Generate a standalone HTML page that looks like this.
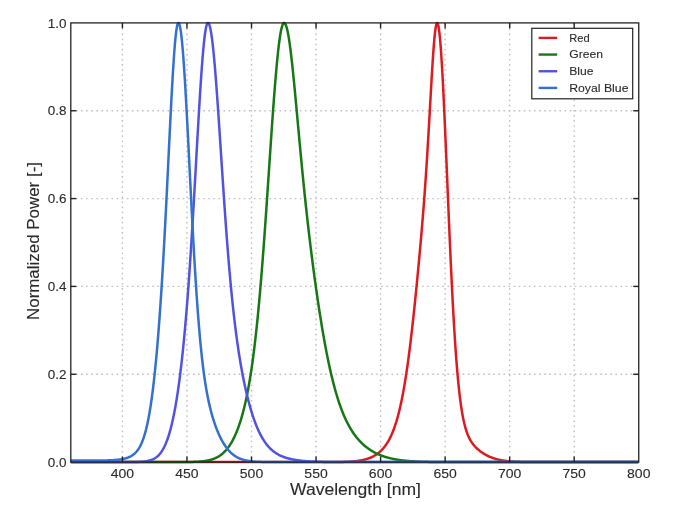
<!DOCTYPE html>
<html><head><meta charset="utf-8"><style>
html,body{margin:0;padding:0;background:#fff;width:675px;height:508px;overflow:hidden}
svg{display:block;will-change:transform}
.g{stroke:#c0c0c0;stroke-width:1.4;stroke-dasharray:1.6 3.49;fill:none}
.t{stroke:#222;stroke-width:1.4}
.c{fill:none;stroke-width:2.5;stroke-linejoin:round}
text{font-family:"Liberation Sans", sans-serif;fill:#2a2a2a;stroke:#2a2a2a;stroke-width:0.1}
.tl{font-size:13.2px}
.lg{font-size:11.4px}
.al{font-size:16.5px}
</style></head><body>
<svg width="675" height="508" viewBox="0 0 675 508">
<rect width="675" height="508" fill="#fff"/>
<g>
<line x1="122.43" y1="462.70" x2="122.43" y2="22.9" class="g"/>
<line x1="186.97" y1="462.70" x2="186.97" y2="22.9" class="g"/>
<line x1="251.51" y1="462.70" x2="251.51" y2="22.9" class="g"/>
<line x1="316.05" y1="462.70" x2="316.05" y2="22.9" class="g"/>
<line x1="380.59" y1="462.70" x2="380.59" y2="22.9" class="g"/>
<line x1="445.13" y1="462.70" x2="445.13" y2="22.9" class="g"/>
<line x1="509.67" y1="462.70" x2="509.67" y2="22.9" class="g"/>
<line x1="574.21" y1="462.70" x2="574.21" y2="22.9" class="g"/>
<line x1="70.8" y1="374.26" x2="638.75" y2="374.26" class="g"/>
<line x1="70.8" y1="286.42" x2="638.75" y2="286.42" class="g"/>
<line x1="70.8" y1="198.58" x2="638.75" y2="198.58" class="g"/>
<line x1="70.8" y1="110.74" x2="638.75" y2="110.74" class="g"/>
<path d="M70.80,462.10 L71.30,462.10 L71.80,462.10 L72.30,462.10 L72.80,462.10 L73.30,462.10 L73.80,462.10 L74.30,462.10 L74.80,462.10 L75.30,462.10 L75.80,462.10 L76.30,462.10 L76.80,462.10 L77.30,462.10 L77.80,462.10 L78.30,462.10 L78.80,462.10 L79.30,462.10 L79.80,462.10 L80.30,462.10 L80.80,462.10 L81.30,462.10 L81.80,462.10 L82.30,462.10 L82.80,462.10 L83.30,462.10 L83.80,462.10 L84.30,462.10 L84.80,462.10 L85.30,462.10 L85.80,462.10 L86.30,462.10 L86.80,462.10 L87.30,462.10 L87.80,462.10 L88.30,462.10 L88.80,462.10 L89.30,462.10 L89.80,462.10 L90.30,462.10 L90.80,462.10 L91.30,462.10 L91.80,462.10 L92.30,462.10 L92.80,462.10 L93.30,462.10 L93.80,462.10 L94.30,462.10 L94.80,462.10 L95.30,462.10 L95.80,462.10 L96.30,462.10 L96.80,462.10 L97.30,462.10 L97.80,462.10 L98.30,462.10 L98.80,462.10 L99.30,462.10 L99.80,462.10 L100.30,462.10 L100.80,462.10 L101.30,462.10 L101.80,462.10 L102.30,462.10 L102.80,462.10 L103.30,462.10 L103.80,462.10 L104.30,462.10 L104.80,462.10 L105.30,462.10 L105.80,462.10 L106.30,462.10 L106.80,462.10 L107.30,462.10 L107.80,462.10 L108.30,462.10 L108.80,462.10 L109.30,462.10 L109.80,462.10 L110.30,462.10 L110.80,462.10 L111.30,462.10 L111.80,462.10 L112.30,462.10 L112.80,462.10 L113.30,462.10 L113.80,462.10 L114.30,462.10 L114.80,462.10 L115.30,462.10 L115.80,462.10 L116.30,462.10 L116.80,462.10 L117.30,462.10 L117.80,462.10 L118.30,462.10 L118.80,462.10 L119.30,462.10 L119.80,462.10 L120.30,462.10 L120.80,462.10 L121.30,462.10 L121.80,462.10 L122.30,462.10 L122.80,462.10 L123.30,462.10 L123.80,462.10 L124.30,462.10 L124.80,462.10 L125.30,462.10 L125.80,462.10 L126.30,462.10 L126.80,462.10 L127.30,462.10 L127.80,462.10 L128.30,462.10 L128.80,462.10 L129.30,462.10 L129.80,462.10 L130.30,462.10 L130.80,462.10 L131.30,462.10 L131.80,462.10 L132.30,462.10 L132.80,462.10 L133.30,462.10 L133.80,462.10 L134.30,462.10 L134.80,462.10 L135.30,462.10 L135.80,462.10 L136.30,462.10 L136.80,462.10 L137.30,462.10 L137.80,462.10 L138.30,462.10 L138.80,462.10 L139.30,462.10 L139.80,462.10 L140.30,462.10 L140.80,462.10 L141.30,462.10 L141.80,462.10 L142.30,462.10 L142.80,462.10 L143.30,462.10 L143.80,462.10 L144.30,462.10 L144.80,462.10 L145.30,462.10 L145.80,462.10 L146.30,462.10 L146.80,462.10 L147.30,462.10 L147.80,462.10 L148.30,462.10 L148.80,462.10 L149.30,462.10 L149.80,462.10 L150.30,462.10 L150.80,462.10 L151.30,462.10 L151.80,462.10 L152.30,462.10 L152.80,462.10 L153.30,462.10 L153.80,462.10 L154.30,462.10 L154.80,462.10 L155.30,462.10 L155.80,462.10 L156.30,462.10 L156.80,462.10 L157.30,462.10 L157.80,462.10 L158.30,462.10 L158.80,462.10 L159.30,462.10 L159.80,462.10 L160.30,462.10 L160.80,462.10 L161.30,462.10 L161.80,462.10 L162.30,462.10 L162.80,462.10 L163.30,462.10 L163.80,462.10 L164.30,462.10 L164.80,462.10 L165.30,462.10 L165.80,462.10 L166.30,462.10 L166.80,462.10 L167.30,462.10 L167.80,462.10 L168.30,462.10 L168.80,462.10 L169.30,462.10 L169.80,462.10 L170.30,462.10 L170.80,462.10 L171.30,462.10 L171.80,462.10 L172.30,462.10 L172.80,462.10 L173.30,462.10 L173.80,462.10 L174.30,462.10 L174.80,462.10 L175.30,462.10 L175.80,462.10 L176.30,462.10 L176.80,462.10 L177.30,462.10 L177.80,462.10 L178.30,462.10 L178.80,462.10 L179.30,462.10 L179.80,462.10 L180.30,462.10 L180.80,462.10 L181.30,462.10 L181.80,462.10 L182.30,462.10 L182.80,462.10 L183.30,462.10 L183.80,462.10 L184.30,462.10 L184.80,462.10 L185.30,462.10 L185.80,462.10 L186.30,462.10 L186.80,462.10 L187.30,462.10 L187.80,462.10 L188.30,462.10 L188.80,462.10 L189.30,462.10 L189.80,462.10 L190.30,462.10 L190.80,462.10 L191.30,462.10 L191.80,462.10 L192.30,462.10 L192.80,462.10 L193.30,462.10 L193.80,462.10 L194.30,462.10 L194.80,462.10 L195.30,462.10 L195.80,462.10 L196.30,462.10 L196.80,462.10 L197.30,462.10 L197.80,462.10 L198.30,462.10 L198.80,462.10 L199.30,462.10 L199.80,462.10 L200.30,462.10 L200.80,462.10 L201.30,462.10 L201.80,462.10 L202.30,462.10 L202.80,462.10 L203.30,462.10 L203.80,462.10 L204.30,462.10 L204.80,462.10 L205.30,462.10 L205.80,462.10 L206.30,462.10 L206.80,462.10 L207.30,462.10 L207.80,462.10 L208.30,462.10 L208.80,462.10 L209.30,462.10 L209.80,462.10 L210.30,462.10 L210.80,462.10 L211.30,462.10 L211.80,462.10 L212.30,462.10 L212.80,462.10 L213.30,462.10 L213.80,462.10 L214.30,462.10 L214.80,462.10 L215.30,462.10 L215.80,462.10 L216.30,462.10 L216.80,462.10 L217.30,462.10 L217.80,462.10 L218.30,462.10 L218.80,462.10 L219.30,462.10 L219.80,462.10 L220.30,462.10 L220.80,462.10 L221.30,462.10 L221.80,462.10 L222.30,462.10 L222.80,462.10 L223.30,462.10 L223.80,462.10 L224.30,462.10 L224.80,462.10 L225.30,462.10 L225.80,462.10 L226.30,462.10 L226.80,462.10 L227.30,462.10 L227.80,462.10 L228.30,462.10 L228.80,462.10 L229.30,462.10 L229.80,462.10 L230.30,462.10 L230.80,462.10 L231.30,462.10 L231.80,462.10 L232.30,462.10 L232.80,462.10 L233.30,462.10 L233.80,462.10 L234.30,462.10 L234.80,462.10 L235.30,462.10 L235.80,462.10 L236.30,462.10 L236.80,462.10 L237.30,462.10 L237.80,462.10 L238.30,462.10 L238.80,462.10 L239.30,462.10 L239.80,462.10 L240.30,462.10 L240.80,462.10 L241.30,462.10 L241.80,462.10 L242.30,462.10 L242.80,462.10 L243.30,462.10 L243.80,462.10 L244.30,462.10 L244.80,462.10 L245.30,462.10 L245.80,462.10 L246.30,462.10 L246.80,462.10 L247.30,462.10 L247.80,462.10 L248.30,462.10 L248.80,462.10 L249.30,462.10 L249.80,462.10 L250.30,462.10 L250.80,462.10 L251.30,462.10 L251.80,462.10 L252.30,462.10 L252.80,462.10 L253.30,462.10 L253.80,462.10 L254.30,462.10 L254.80,462.10 L255.30,462.10 L255.80,462.10 L256.30,462.10 L256.80,462.10 L257.30,462.10 L257.80,462.10 L258.30,462.10 L258.80,462.10 L259.30,462.10 L259.80,462.10 L260.30,462.10 L260.80,462.10 L261.30,462.10 L261.80,462.10 L262.30,462.10 L262.80,462.10 L263.30,462.10 L263.80,462.10 L264.30,462.10 L264.80,462.10 L265.30,462.10 L265.80,462.10 L266.30,462.10 L266.80,462.10 L267.30,462.10 L267.80,462.10 L268.30,462.10 L268.80,462.10 L269.30,462.10 L269.80,462.10 L270.30,462.10 L270.80,462.10 L271.30,462.10 L271.80,462.10 L272.30,462.10 L272.80,462.10 L273.30,462.10 L273.80,462.10 L274.30,462.10 L274.80,462.10 L275.30,462.10 L275.80,462.10 L276.30,462.10 L276.80,462.10 L277.30,462.10 L277.80,462.10 L278.30,462.10 L278.80,462.10 L279.30,462.10 L279.80,462.10 L280.30,462.10 L280.80,462.10 L281.30,462.10 L281.80,462.10 L282.30,462.10 L282.80,462.10 L283.30,462.10 L283.80,462.10 L284.30,462.10 L284.80,462.10 L285.30,462.10 L285.80,462.10 L286.30,462.10 L286.80,462.10 L287.30,462.10 L287.80,462.10 L288.30,462.10 L288.80,462.10 L289.30,462.10 L289.80,462.10 L290.30,462.10 L290.80,462.10 L291.30,462.10 L291.80,462.10 L292.30,462.10 L292.80,462.10 L293.30,462.10 L293.80,462.10 L294.30,462.10 L294.80,462.10 L295.30,462.10 L295.80,462.10 L296.30,462.10 L296.80,462.10 L297.30,462.10 L297.80,462.10 L298.30,462.10 L298.80,462.10 L299.30,462.10 L299.80,462.10 L300.30,462.10 L300.80,462.10 L301.30,462.10 L301.80,462.10 L302.30,462.10 L302.80,462.10 L303.30,462.10 L303.80,462.10 L304.30,462.10 L304.80,462.10 L305.30,462.10 L305.80,462.10 L306.30,462.10 L306.80,462.10 L307.30,462.10 L307.80,462.10 L308.30,462.10 L308.80,462.10 L309.30,462.10 L309.80,462.10 L310.30,462.10 L310.80,462.10 L311.30,462.10 L311.80,462.10 L312.30,462.10 L312.80,462.10 L313.30,462.10 L313.80,462.10 L314.30,462.10 L314.80,462.10 L315.30,462.10 L315.80,462.10 L316.30,462.10 L316.80,462.10 L317.30,462.10 L317.80,462.09 L318.30,462.09 L318.80,462.09 L319.30,462.09 L319.80,462.09 L320.30,462.09 L320.80,462.09 L321.30,462.09 L321.80,462.09 L322.30,462.09 L322.80,462.09 L323.30,462.09 L323.80,462.09 L324.30,462.09 L324.80,462.08 L325.30,462.08 L325.80,462.08 L326.30,462.08 L326.80,462.08 L327.30,462.08 L327.80,462.08 L328.30,462.07 L328.80,462.07 L329.30,462.07 L329.80,462.07 L330.30,462.06 L330.80,462.06 L331.30,462.06 L331.80,462.06 L332.30,462.05 L332.80,462.05 L333.30,462.04 L333.80,462.04 L334.30,462.04 L334.80,462.03 L335.30,462.03 L335.80,462.02 L336.30,462.02 L336.80,462.01 L337.30,462.00 L337.80,462.00 L338.30,461.99 L338.80,461.98 L339.30,461.97 L339.80,461.96 L340.30,461.95 L340.80,461.94 L341.30,461.93 L341.80,461.92 L342.30,461.91 L342.80,461.90 L343.30,461.88 L343.80,461.87 L344.30,461.85 L344.80,461.84 L345.30,461.82 L345.80,461.80 L346.30,461.78 L346.80,461.76 L347.30,461.74 L347.80,461.72 L348.30,461.69 L348.80,461.67 L349.30,461.64 L349.80,461.61 L350.30,461.58 L350.80,461.55 L351.30,461.52 L351.80,461.48 L352.30,461.44 L352.80,461.40 L353.30,461.36 L353.80,461.32 L354.30,461.27 L354.80,461.22 L355.30,461.17 L355.80,461.12 L356.30,461.06 L356.80,461.00 L357.30,460.94 L357.80,460.87 L358.30,460.80 L358.80,460.73 L359.30,460.65 L359.80,460.57 L360.30,460.49 L360.80,460.40 L361.30,460.31 L361.80,460.21 L362.30,460.11 L362.80,460.01 L363.30,459.90 L363.80,459.78 L364.30,459.66 L364.80,459.54 L365.30,459.40 L365.80,459.27 L366.30,459.12 L366.80,458.97 L367.30,458.81 L367.80,458.65 L368.30,458.48 L368.80,458.30 L369.30,458.11 L369.80,457.92 L370.30,457.72 L370.80,457.51 L371.30,457.29 L371.80,457.06 L372.30,456.82 L372.80,456.57 L373.30,456.31 L373.80,456.04 L374.30,455.76 L374.80,455.47 L375.30,455.17 L375.80,454.85 L376.30,454.52 L376.80,454.18 L377.30,453.82 L377.80,453.45 L378.30,453.07 L378.80,452.67 L379.30,452.25 L379.80,451.82 L380.30,451.37 L380.80,450.90 L381.30,450.42 L381.80,449.91 L382.30,449.38 L382.80,448.83 L383.30,448.27 L383.80,447.67 L384.30,447.06 L384.80,446.41 L385.30,445.75 L385.80,445.05 L386.30,444.33 L386.80,443.58 L387.30,442.80 L387.80,441.98 L388.30,441.14 L388.80,440.25 L389.30,439.34 L389.80,438.38 L390.30,437.39 L390.80,436.35 L391.30,435.27 L391.80,434.15 L392.30,432.99 L392.80,431.77 L393.30,430.51 L393.80,429.19 L394.30,427.82 L394.80,426.40 L395.30,424.92 L395.80,423.37 L396.30,421.77 L396.80,420.10 L397.30,418.37 L397.80,416.57 L398.30,414.70 L398.80,412.76 L399.30,410.74 L399.80,408.64 L400.30,406.47 L400.80,404.22 L401.30,401.88 L401.80,399.46 L402.30,396.95 L402.80,394.36 L403.30,391.67 L403.80,388.89 L404.30,386.02 L404.80,383.06 L405.30,380.00 L405.80,376.84 L406.30,373.59 L406.80,370.24 L407.30,366.79 L407.80,363.24 L408.30,359.59 L408.80,355.85 L409.30,352.01 L409.80,348.07 L410.30,344.03 L410.80,339.91 L411.30,335.69 L411.80,331.38 L412.30,326.98 L412.80,322.49 L413.30,317.92 L413.80,313.27 L414.30,308.55 L414.80,303.74 L415.30,298.87 L415.80,293.92 L416.30,288.91 L416.80,283.84 L417.30,278.69 L417.80,273.49 L418.30,268.22 L418.80,262.89 L419.30,257.48 L419.80,252.01 L420.30,246.45 L420.80,240.81 L421.30,235.08 L421.80,229.23 L422.30,223.27 L422.80,217.17 L423.30,210.92 L423.80,204.50 L424.30,197.89 L424.80,191.08 L425.30,184.05 L425.80,176.79 L426.30,169.29 L426.80,161.55 L427.30,153.57 L427.80,145.36 L428.30,136.93 L428.80,128.32 L429.30,119.57 L429.80,110.71 L430.30,101.83 L430.80,92.97 L431.30,84.24 L431.80,75.71 L432.30,67.48 L432.80,59.65 L433.30,52.34 L433.80,45.63 L434.30,39.63 L434.80,34.44 L435.30,30.13 L435.80,26.77 L436.30,24.44 L436.80,23.16 L437.30,22.95 L437.80,23.75 L438.30,25.52 L438.80,28.27 L439.30,31.95 L439.80,36.56 L440.30,42.04 L440.80,48.38 L441.30,55.50 L441.80,63.38 L442.30,71.95 L442.80,81.15 L443.30,90.92 L443.80,101.21 L444.30,111.93 L444.80,123.03 L445.30,134.44 L445.80,146.09 L446.30,157.92 L446.80,169.86 L447.30,181.86 L447.80,193.85 L448.30,205.78 L448.80,217.61 L449.30,229.27 L449.80,240.73 L450.30,251.95 L450.80,262.90 L451.30,273.54 L451.80,283.84 L452.30,293.79 L452.80,303.37 L453.30,312.56 L453.80,321.35 L454.30,329.74 L454.80,337.72 L455.30,345.30 L455.80,352.48 L456.30,359.26 L456.80,365.64 L457.30,371.65 L457.80,377.29 L458.30,382.57 L458.80,387.50 L459.30,392.11 L459.80,396.40 L460.30,400.40 L460.80,404.11 L461.30,407.56 L461.80,410.75 L462.30,413.71 L462.80,416.46 L463.30,418.99 L463.80,421.34 L464.30,423.51 L464.80,425.52 L465.30,427.38 L465.80,429.10 L466.30,430.69 L466.80,432.17 L467.30,433.54 L467.80,434.82 L468.30,436.01 L468.80,437.11 L469.30,438.15 L469.80,439.12 L470.30,440.02 L470.80,440.88 L471.30,441.68 L471.80,442.44 L472.30,443.16 L472.80,443.84 L473.30,444.49 L473.80,445.10 L474.30,445.69 L474.80,446.26 L475.30,446.80 L475.80,447.32 L476.30,447.82 L476.80,448.30 L477.30,448.76 L477.80,449.21 L478.30,449.65 L478.80,450.07 L479.30,450.48 L479.80,450.87 L480.30,451.26 L480.80,451.63 L481.30,451.99 L481.80,452.35 L482.30,452.69 L482.80,453.02 L483.30,453.34 L483.80,453.66 L484.30,453.96 L484.80,454.26 L485.30,454.55 L485.80,454.83 L486.30,455.10 L486.80,455.37 L487.30,455.63 L487.80,455.88 L488.30,456.12 L488.80,456.35 L489.30,456.58 L489.80,456.80 L490.30,457.01 L490.80,457.22 L491.30,457.42 L491.80,457.62 L492.30,457.80 L492.80,457.98 L493.30,458.16 L493.80,458.33 L494.30,458.49 L494.80,458.65 L495.30,458.80 L495.80,458.95 L496.30,459.09 L496.80,459.22 L497.30,459.35 L497.80,459.48 L498.30,459.60 L498.80,459.72 L499.30,459.83 L499.80,459.94 L500.30,460.04 L500.80,460.14 L501.30,460.23 L501.80,460.32 L502.30,460.41 L502.80,460.50 L503.30,460.58 L503.80,460.65 L504.30,460.73 L504.80,460.80 L505.30,460.86 L505.80,460.93 L506.30,460.99 L506.80,461.05 L507.30,461.10 L507.80,461.15 L508.30,461.21 L508.80,461.25 L509.30,461.30 L509.80,461.34 L510.30,461.39 L510.80,461.42 L511.30,461.46 L511.80,461.50 L512.30,461.53 L512.80,461.56 L513.30,461.60 L513.80,461.62 L514.30,461.65 L514.80,461.68 L515.30,461.70 L515.80,461.73 L516.30,461.75 L516.80,461.77 L517.30,461.79 L517.80,461.81 L518.30,461.83 L518.80,461.84 L519.30,461.86 L519.80,461.87 L520.30,461.89 L520.80,461.90 L521.30,461.91 L521.80,461.93 L522.30,461.94 L522.80,461.95 L523.30,461.96 L523.80,461.97 L524.30,461.97 L524.80,461.98 L525.30,461.99 L525.80,462.00 L526.30,462.00 L526.80,462.01 L527.30,462.02 L527.80,462.02 L528.30,462.03 L528.80,462.03 L529.30,462.04 L529.80,462.04 L530.30,462.05 L530.80,462.05 L531.30,462.05 L531.80,462.06 L532.30,462.06 L532.80,462.06 L533.30,462.07 L533.80,462.07 L534.30,462.07 L534.80,462.07 L535.30,462.07 L535.80,462.08 L536.30,462.08 L536.80,462.08 L537.30,462.08 L537.80,462.08 L538.30,462.08 L538.80,462.09 L539.30,462.09 L539.80,462.09 L540.30,462.09 L540.80,462.09 L541.30,462.09 L541.80,462.09 L542.30,462.09 L542.80,462.09 L543.30,462.09 L543.80,462.09 L544.30,462.09 L544.80,462.09 L545.30,462.09 L545.80,462.10 L546.30,462.10 L546.80,462.10 L547.30,462.10 L547.80,462.10 L548.30,462.10 L548.80,462.10 L549.30,462.10 L549.80,462.10 L550.30,462.10 L550.80,462.10 L551.30,462.10 L551.80,462.10 L552.30,462.10 L552.80,462.10 L553.30,462.10 L553.80,462.10 L554.30,462.10 L554.80,462.10 L555.30,462.10 L555.80,462.10 L556.30,462.10 L556.80,462.10 L557.30,462.10 L557.80,462.10 L558.30,462.10 L558.80,462.10 L559.30,462.10 L559.80,462.10 L560.30,462.10 L560.80,462.10 L561.30,462.10 L561.80,462.10 L562.30,462.10 L562.80,462.10 L563.30,462.10 L563.80,462.10 L564.30,462.10 L564.80,462.10 L565.30,462.10 L565.80,462.10 L566.30,462.10 L566.80,462.10 L567.30,462.10 L567.80,462.10 L568.30,462.10 L568.80,462.10 L569.30,462.10 L569.80,462.10 L570.30,462.10 L570.80,462.10 L571.30,462.10 L571.80,462.10 L572.30,462.10 L572.80,462.10 L573.30,462.10 L573.80,462.10 L574.30,462.10 L574.80,462.10 L575.30,462.10 L575.80,462.10 L576.30,462.10 L576.80,462.10 L577.30,462.10 L577.80,462.10 L578.30,462.10 L578.80,462.10 L579.30,462.10 L579.80,462.10 L580.30,462.10 L580.80,462.10 L581.30,462.10 L581.80,462.10 L582.30,462.10 L582.80,462.10 L583.30,462.10 L583.80,462.10 L584.30,462.10 L584.80,462.10 L585.30,462.10 L585.80,462.10 L586.30,462.10 L586.80,462.10 L587.30,462.10 L587.80,462.10 L588.30,462.10 L588.80,462.10 L589.30,462.10 L589.80,462.10 L590.30,462.10 L590.80,462.10 L591.30,462.10 L591.80,462.10 L592.30,462.10 L592.80,462.10 L593.30,462.10 L593.80,462.10 L594.30,462.10 L594.80,462.10 L595.30,462.10 L595.80,462.10 L596.30,462.10 L596.80,462.10 L597.30,462.10 L597.80,462.10 L598.30,462.10 L598.80,462.10 L599.30,462.10 L599.80,462.10 L600.30,462.10 L600.80,462.10 L601.30,462.10 L601.80,462.10 L602.30,462.10 L602.80,462.10 L603.30,462.10 L603.80,462.10 L604.30,462.10 L604.80,462.10 L605.30,462.10 L605.80,462.10 L606.30,462.10 L606.80,462.10 L607.30,462.10 L607.80,462.10 L608.30,462.10 L608.80,462.10 L609.30,462.10 L609.80,462.10 L610.30,462.10 L610.80,462.10 L611.30,462.10 L611.80,462.10 L612.30,462.10 L612.80,462.10 L613.30,462.10 L613.80,462.10 L614.30,462.10 L614.80,462.10 L615.30,462.10 L615.80,462.10 L616.30,462.10 L616.80,462.10 L617.30,462.10 L617.80,462.10 L618.30,462.10 L618.80,462.10 L619.30,462.10 L619.80,462.10 L620.30,462.10 L620.80,462.10 L621.30,462.10 L621.80,462.10 L622.30,462.10 L622.80,462.10 L623.30,462.10 L623.80,462.10 L624.30,462.10 L624.80,462.10 L625.30,462.10 L625.80,462.10 L626.30,462.10 L626.80,462.10 L627.30,462.10 L627.80,462.10 L628.30,462.10 L628.80,462.10 L629.30,462.10 L629.80,462.10 L630.30,462.10 L630.80,462.10 L631.30,462.10 L631.80,462.10 L632.30,462.10 L632.80,462.10 L633.30,462.10 L633.80,462.10 L634.30,462.10 L634.80,462.10 L635.30,462.10 L635.80,462.10 L636.30,462.10 L636.80,462.10 L637.30,462.10 L637.80,462.10 L638.30,462.10" stroke="#dc1a20" class="c"/>
<path d="M70.80,462.10 L71.30,462.10 L71.80,462.10 L72.30,462.10 L72.80,462.10 L73.30,462.10 L73.80,462.10 L74.30,462.10 L74.80,462.10 L75.30,462.10 L75.80,462.10 L76.30,462.10 L76.80,462.10 L77.30,462.10 L77.80,462.10 L78.30,462.10 L78.80,462.10 L79.30,462.10 L79.80,462.10 L80.30,462.10 L80.80,462.10 L81.30,462.10 L81.80,462.10 L82.30,462.10 L82.80,462.10 L83.30,462.10 L83.80,462.10 L84.30,462.10 L84.80,462.10 L85.30,462.10 L85.80,462.10 L86.30,462.10 L86.80,462.10 L87.30,462.10 L87.80,462.10 L88.30,462.10 L88.80,462.10 L89.30,462.10 L89.80,462.10 L90.30,462.10 L90.80,462.10 L91.30,462.10 L91.80,462.10 L92.30,462.10 L92.80,462.10 L93.30,462.10 L93.80,462.10 L94.30,462.10 L94.80,462.10 L95.30,462.10 L95.80,462.10 L96.30,462.10 L96.80,462.10 L97.30,462.10 L97.80,462.10 L98.30,462.10 L98.80,462.10 L99.30,462.10 L99.80,462.10 L100.30,462.10 L100.80,462.10 L101.30,462.10 L101.80,462.10 L102.30,462.10 L102.80,462.10 L103.30,462.10 L103.80,462.10 L104.30,462.10 L104.80,462.10 L105.30,462.10 L105.80,462.10 L106.30,462.10 L106.80,462.10 L107.30,462.10 L107.80,462.10 L108.30,462.10 L108.80,462.10 L109.30,462.10 L109.80,462.10 L110.30,462.10 L110.80,462.10 L111.30,462.10 L111.80,462.10 L112.30,462.10 L112.80,462.10 L113.30,462.10 L113.80,462.10 L114.30,462.10 L114.80,462.10 L115.30,462.10 L115.80,462.10 L116.30,462.10 L116.80,462.10 L117.30,462.10 L117.80,462.10 L118.30,462.10 L118.80,462.10 L119.30,462.10 L119.80,462.10 L120.30,462.10 L120.80,462.10 L121.30,462.10 L121.80,462.10 L122.30,462.10 L122.80,462.10 L123.30,462.10 L123.80,462.10 L124.30,462.10 L124.80,462.10 L125.30,462.10 L125.80,462.10 L126.30,462.10 L126.80,462.10 L127.30,462.10 L127.80,462.10 L128.30,462.10 L128.80,462.10 L129.30,462.10 L129.80,462.10 L130.30,462.10 L130.80,462.10 L131.30,462.10 L131.80,462.10 L132.30,462.10 L132.80,462.10 L133.30,462.10 L133.80,462.10 L134.30,462.10 L134.80,462.10 L135.30,462.10 L135.80,462.10 L136.30,462.10 L136.80,462.10 L137.30,462.10 L137.80,462.10 L138.30,462.10 L138.80,462.10 L139.30,462.10 L139.80,462.10 L140.30,462.10 L140.80,462.10 L141.30,462.10 L141.80,462.10 L142.30,462.10 L142.80,462.10 L143.30,462.10 L143.80,462.10 L144.30,462.10 L144.80,462.10 L145.30,462.10 L145.80,462.10 L146.30,462.10 L146.80,462.10 L147.30,462.10 L147.80,462.10 L148.30,462.10 L148.80,462.10 L149.30,462.10 L149.80,462.10 L150.30,462.10 L150.80,462.10 L151.30,462.10 L151.80,462.10 L152.30,462.10 L152.80,462.10 L153.30,462.10 L153.80,462.10 L154.30,462.10 L154.80,462.10 L155.30,462.10 L155.80,462.10 L156.30,462.10 L156.80,462.10 L157.30,462.10 L157.80,462.10 L158.30,462.10 L158.80,462.10 L159.30,462.10 L159.80,462.10 L160.30,462.10 L160.80,462.10 L161.30,462.10 L161.80,462.10 L162.30,462.10 L162.80,462.10 L163.30,462.10 L163.80,462.10 L164.30,462.10 L164.80,462.10 L165.30,462.10 L165.80,462.10 L166.30,462.10 L166.80,462.10 L167.30,462.10 L167.80,462.10 L168.30,462.10 L168.80,462.10 L169.30,462.10 L169.80,462.10 L170.30,462.10 L170.80,462.09 L171.30,462.09 L171.80,462.09 L172.30,462.09 L172.80,462.09 L173.30,462.09 L173.80,462.09 L174.30,462.09 L174.80,462.09 L175.30,462.09 L175.80,462.09 L176.30,462.09 L176.80,462.08 L177.30,462.08 L177.80,462.08 L178.30,462.08 L178.80,462.08 L179.30,462.08 L179.80,462.07 L180.30,462.07 L180.80,462.07 L181.30,462.07 L181.80,462.06 L182.30,462.06 L182.80,462.06 L183.30,462.05 L183.80,462.05 L184.30,462.04 L184.80,462.04 L185.30,462.03 L185.80,462.03 L186.30,462.02 L186.80,462.02 L187.30,462.01 L187.80,462.00 L188.30,461.99 L188.80,461.99 L189.30,461.98 L189.80,461.97 L190.30,461.96 L190.80,461.94 L191.30,461.93 L191.80,461.92 L192.30,461.91 L192.80,461.89 L193.30,461.87 L193.80,461.86 L194.30,461.84 L194.80,461.82 L195.30,461.80 L195.80,461.77 L196.30,461.75 L196.80,461.73 L197.30,461.70 L197.80,461.67 L198.30,461.64 L198.80,461.60 L199.30,461.57 L199.80,461.53 L200.30,461.49 L200.80,461.45 L201.30,461.40 L201.80,461.35 L202.30,461.30 L202.80,461.25 L203.30,461.19 L203.80,461.13 L204.30,461.06 L204.80,460.99 L205.30,460.92 L205.80,460.84 L206.30,460.76 L206.80,460.67 L207.30,460.58 L207.80,460.48 L208.30,460.38 L208.80,460.27 L209.30,460.15 L209.80,460.03 L210.30,459.90 L210.80,459.76 L211.30,459.62 L211.80,459.47 L212.30,459.31 L212.80,459.14 L213.30,458.97 L213.80,458.78 L214.30,458.59 L214.80,458.38 L215.30,458.17 L215.80,457.94 L216.30,457.70 L216.80,457.46 L217.30,457.20 L217.80,456.92 L218.30,456.64 L218.80,456.34 L219.30,456.02 L219.80,455.69 L220.30,455.35 L220.80,454.99 L221.30,454.62 L221.80,454.22 L222.30,453.81 L222.80,453.39 L223.30,452.94 L223.80,452.48 L224.30,451.99 L224.80,451.49 L225.30,450.96 L225.80,450.42 L226.30,449.85 L226.80,449.25 L227.30,448.64 L227.80,448.00 L228.30,447.33 L228.80,446.64 L229.30,445.92 L229.80,445.18 L230.30,444.41 L230.80,443.61 L231.30,442.77 L231.80,441.91 L232.30,441.02 L232.80,440.09 L233.30,439.14 L233.80,438.14 L234.30,437.12 L234.80,436.05 L235.30,434.95 L235.80,433.81 L236.30,432.63 L236.80,431.41 L237.30,430.15 L237.80,428.85 L238.30,427.50 L238.80,426.10 L239.30,424.66 L239.80,423.17 L240.30,421.62 L240.80,420.03 L241.30,418.38 L241.80,416.67 L242.30,414.91 L242.80,413.08 L243.30,411.19 L243.80,409.24 L244.30,407.22 L244.80,405.13 L245.30,402.97 L245.80,400.73 L246.30,398.41 L246.80,396.01 L247.30,393.53 L247.80,390.96 L248.30,388.30 L248.80,385.55 L249.30,382.70 L249.80,379.75 L250.30,376.69 L250.80,373.53 L251.30,370.26 L251.80,366.87 L252.30,363.36 L252.80,359.73 L253.30,355.98 L253.80,352.10 L254.30,348.09 L254.80,343.94 L255.30,339.65 L255.80,335.23 L256.30,330.66 L256.80,325.95 L257.30,321.09 L257.80,316.09 L258.30,310.93 L258.80,305.63 L259.30,300.18 L259.80,294.58 L260.30,288.83 L260.80,282.93 L261.30,276.89 L261.80,270.71 L262.30,264.39 L262.80,257.94 L263.30,251.35 L263.80,244.65 L264.30,237.83 L264.80,230.90 L265.30,223.86 L265.80,216.74 L266.30,209.54 L266.80,202.26 L267.30,194.92 L267.80,187.54 L268.30,180.12 L268.80,172.69 L269.30,165.24 L269.80,157.81 L270.30,150.40 L270.80,143.03 L271.30,135.72 L271.80,128.49 L272.30,121.35 L272.80,114.33 L273.30,107.43 L273.80,100.69 L274.30,94.11 L274.80,87.72 L275.30,81.53 L275.80,75.56 L276.30,69.84 L276.80,64.37 L277.30,59.18 L277.80,54.29 L278.30,49.69 L278.80,45.42 L279.30,41.49 L279.80,37.91 L280.30,34.68 L280.80,31.83 L281.30,29.36 L281.80,27.28 L282.30,25.60 L282.80,24.32 L283.30,23.44 L283.80,22.98 L284.30,22.93 L284.80,23.24 L285.30,23.90 L285.80,24.91 L286.30,26.26 L286.80,27.96 L287.30,29.98 L287.80,32.32 L288.30,34.96 L288.80,37.90 L289.30,41.12 L289.80,44.61 L290.30,48.35 L290.80,52.32 L291.30,56.51 L291.80,60.89 L292.30,65.46 L292.80,70.19 L293.30,75.07 L293.80,80.07 L294.30,85.19 L294.80,90.40 L295.30,95.69 L295.80,101.04 L296.30,106.44 L296.80,111.87 L297.30,117.32 L297.80,122.79 L298.30,128.24 L298.80,133.69 L299.30,139.12 L299.80,144.51 L300.30,149.86 L300.80,155.18 L301.30,160.44 L301.80,165.65 L302.30,170.79 L302.80,175.88 L303.30,180.91 L303.80,185.87 L304.30,190.76 L304.80,195.58 L305.30,200.34 L305.80,205.03 L306.30,209.66 L306.80,214.22 L307.30,218.71 L307.80,223.14 L308.30,227.51 L308.80,231.82 L309.30,236.06 L309.80,240.25 L310.30,244.39 L310.80,248.47 L311.30,252.49 L311.80,256.46 L312.30,260.38 L312.80,264.25 L313.30,268.07 L313.80,271.85 L314.30,275.57 L314.80,279.25 L315.30,282.88 L315.80,286.46 L316.30,290.00 L316.80,293.50 L317.30,296.95 L317.80,300.35 L318.30,303.71 L318.80,307.02 L319.30,310.28 L319.80,313.51 L320.30,316.68 L320.80,319.81 L321.30,322.89 L321.80,325.93 L322.30,328.92 L322.80,331.86 L323.30,334.76 L323.80,337.61 L324.30,340.41 L324.80,343.17 L325.30,345.88 L325.80,348.54 L326.30,351.15 L326.80,353.72 L327.30,356.24 L327.80,358.71 L328.30,361.13 L328.80,363.51 L329.30,365.84 L329.80,368.13 L330.30,370.36 L330.80,372.56 L331.30,374.70 L331.80,376.81 L332.30,378.86 L332.80,380.88 L333.30,382.84 L333.80,384.77 L334.30,386.65 L334.80,388.50 L335.30,390.29 L335.80,392.05 L336.30,393.77 L336.80,395.45 L337.30,397.09 L337.80,398.69 L338.30,400.25 L338.80,401.78 L339.30,403.27 L339.80,404.72 L340.30,406.14 L340.80,407.53 L341.30,408.88 L341.80,410.20 L342.30,411.48 L342.80,412.73 L343.30,413.96 L343.80,415.15 L344.30,416.31 L344.80,417.45 L345.30,418.56 L345.80,419.64 L346.30,420.69 L346.80,421.71 L347.30,422.71 L347.80,423.69 L348.30,424.64 L348.80,425.57 L349.30,426.48 L349.80,427.36 L350.30,428.22 L350.80,429.06 L351.30,429.88 L351.80,430.68 L352.30,431.46 L352.80,432.22 L353.30,432.96 L353.80,433.68 L354.30,434.39 L354.80,435.08 L355.30,435.75 L355.80,436.40 L356.30,437.04 L356.80,437.67 L357.30,438.28 L357.80,438.87 L358.30,439.45 L358.80,440.02 L359.30,440.57 L359.80,441.11 L360.30,441.64 L360.80,442.16 L361.30,442.66 L361.80,443.15 L362.30,443.63 L362.80,444.10 L363.30,444.55 L363.80,445.00 L364.30,445.44 L364.80,445.86 L365.30,446.28 L365.80,446.69 L366.30,447.08 L366.80,447.47 L367.30,447.85 L367.80,448.22 L368.30,448.58 L368.80,448.93 L369.30,449.28 L369.80,449.62 L370.30,449.95 L370.80,450.27 L371.30,450.58 L371.80,450.89 L372.30,451.19 L372.80,451.48 L373.30,451.77 L373.80,452.04 L374.30,452.32 L374.80,452.58 L375.30,452.84 L375.80,453.10 L376.30,453.34 L376.80,453.59 L377.30,453.82 L377.80,454.05 L378.30,454.28 L378.80,454.50 L379.30,454.71 L379.80,454.92 L380.30,455.12 L380.80,455.32 L381.30,455.52 L381.80,455.71 L382.30,455.89 L382.80,456.07 L383.30,456.25 L383.80,456.42 L384.30,456.58 L384.80,456.75 L385.30,456.90 L385.80,457.06 L386.30,457.21 L386.80,457.36 L387.30,457.50 L387.80,457.64 L388.30,457.77 L388.80,457.91 L389.30,458.03 L389.80,458.16 L390.30,458.28 L390.80,458.40 L391.30,458.52 L391.80,458.63 L392.30,458.74 L392.80,458.84 L393.30,458.95 L393.80,459.05 L394.30,459.14 L394.80,459.24 L395.30,459.33 L395.80,459.42 L396.30,459.51 L396.80,459.59 L397.30,459.67 L397.80,459.75 L398.30,459.83 L398.80,459.91 L399.30,459.98 L399.80,460.05 L400.30,460.12 L400.80,460.19 L401.30,460.25 L401.80,460.32 L402.30,460.38 L402.80,460.44 L403.30,460.49 L403.80,460.55 L404.30,460.60 L404.80,460.65 L405.30,460.71 L405.80,460.75 L406.30,460.80 L406.80,460.85 L407.30,460.89 L407.80,460.94 L408.30,460.98 L408.80,461.02 L409.30,461.06 L409.80,461.09 L410.30,461.13 L410.80,461.17 L411.30,461.20 L411.80,461.23 L412.30,461.27 L412.80,461.30 L413.30,461.33 L413.80,461.36 L414.30,461.38 L414.80,461.41 L415.30,461.44 L415.80,461.46 L416.30,461.49 L416.80,461.51 L417.30,461.53 L417.80,461.55 L418.30,461.58 L418.80,461.60 L419.30,461.62 L419.80,461.63 L420.30,461.65 L420.80,461.67 L421.30,461.69 L421.80,461.70 L422.30,461.72 L422.80,461.73 L423.30,461.75 L423.80,461.76 L424.30,461.78 L424.80,461.79 L425.30,461.80 L425.80,461.81 L426.30,461.83 L426.80,461.84 L427.30,461.85 L427.80,461.86 L428.30,461.87 L428.80,461.88 L429.30,461.89 L429.80,461.90 L430.30,461.91 L430.80,461.91 L431.30,461.92 L431.80,461.93 L432.30,461.94 L432.80,461.94 L433.30,461.95 L433.80,461.96 L434.30,461.96 L434.80,461.97 L435.30,461.97 L435.80,461.98 L436.30,461.99 L436.80,461.99 L437.30,461.99 L437.80,462.00 L438.30,462.00 L438.80,462.01 L439.30,462.01 L439.80,462.02 L440.30,462.02 L440.80,462.02 L441.30,462.03 L441.80,462.03 L442.30,462.03 L442.80,462.04 L443.30,462.04 L443.80,462.04 L444.30,462.04 L444.80,462.05 L445.30,462.05 L445.80,462.05 L446.30,462.05 L446.80,462.06 L447.30,462.06 L447.80,462.06 L448.30,462.06 L448.80,462.06 L449.30,462.07 L449.80,462.07 L450.30,462.07 L450.80,462.07 L451.30,462.07 L451.80,462.07 L452.30,462.07 L452.80,462.08 L453.30,462.08 L453.80,462.08 L454.30,462.08 L454.80,462.08 L455.30,462.08 L455.80,462.08 L456.30,462.08 L456.80,462.08 L457.30,462.08 L457.80,462.09 L458.30,462.09 L458.80,462.09 L459.30,462.09 L459.80,462.09 L460.30,462.09 L460.80,462.09 L461.30,462.09 L461.80,462.09 L462.30,462.09 L462.80,462.09 L463.30,462.09 L463.80,462.09 L464.30,462.09 L464.80,462.09 L465.30,462.09 L465.80,462.09 L466.30,462.09 L466.80,462.09 L467.30,462.09 L467.80,462.09 L468.30,462.10 L468.80,462.10 L469.30,462.10 L469.80,462.10 L470.30,462.10 L470.80,462.10 L471.30,462.10 L471.80,462.10 L472.30,462.10 L472.80,462.10 L473.30,462.10 L473.80,462.10 L474.30,462.10 L474.80,462.10 L475.30,462.10 L475.80,462.10 L476.30,462.10 L476.80,462.10 L477.30,462.10 L477.80,462.10 L478.30,462.10 L478.80,462.10 L479.30,462.10 L479.80,462.10 L480.30,462.10 L480.80,462.10 L481.30,462.10 L481.80,462.10 L482.30,462.10 L482.80,462.10 L483.30,462.10 L483.80,462.10 L484.30,462.10 L484.80,462.10 L485.30,462.10 L485.80,462.10 L486.30,462.10 L486.80,462.10 L487.30,462.10 L487.80,462.10 L488.30,462.10 L488.80,462.10 L489.30,462.10 L489.80,462.10 L490.30,462.10 L490.80,462.10 L491.30,462.10 L491.80,462.10 L492.30,462.10 L492.80,462.10 L493.30,462.10 L493.80,462.10 L494.30,462.10 L494.80,462.10 L495.30,462.10 L495.80,462.10 L496.30,462.10 L496.80,462.10 L497.30,462.10 L497.80,462.10 L498.30,462.10 L498.80,462.10 L499.30,462.10 L499.80,462.10 L500.30,462.10 L500.80,462.10 L501.30,462.10 L501.80,462.10 L502.30,462.10 L502.80,462.10 L503.30,462.10 L503.80,462.10 L504.30,462.10 L504.80,462.10 L505.30,462.10 L505.80,462.10 L506.30,462.10 L506.80,462.10 L507.30,462.10 L507.80,462.10 L508.30,462.10 L508.80,462.10 L509.30,462.10 L509.80,462.10 L510.30,462.10 L510.80,462.10 L511.30,462.10 L511.80,462.10 L512.30,462.10 L512.80,462.10 L513.30,462.10 L513.80,462.10 L514.30,462.10 L514.80,462.10 L515.30,462.10 L515.80,462.10 L516.30,462.10 L516.80,462.10 L517.30,462.10 L517.80,462.10 L518.30,462.10 L518.80,462.10 L519.30,462.10 L519.80,462.10 L520.30,462.10 L520.80,462.10 L521.30,462.10 L521.80,462.10 L522.30,462.10 L522.80,462.10 L523.30,462.10 L523.80,462.10 L524.30,462.10 L524.80,462.10 L525.30,462.10 L525.80,462.10 L526.30,462.10 L526.80,462.10 L527.30,462.10 L527.80,462.10 L528.30,462.10 L528.80,462.10 L529.30,462.10 L529.80,462.10 L530.30,462.10 L530.80,462.10 L531.30,462.10 L531.80,462.10 L532.30,462.10 L532.80,462.10 L533.30,462.10 L533.80,462.10 L534.30,462.10 L534.80,462.10 L535.30,462.10 L535.80,462.10 L536.30,462.10 L536.80,462.10 L537.30,462.10 L537.80,462.10 L538.30,462.10 L538.80,462.10 L539.30,462.10 L539.80,462.10 L540.30,462.10 L540.80,462.10 L541.30,462.10 L541.80,462.10 L542.30,462.10 L542.80,462.10 L543.30,462.10 L543.80,462.10 L544.30,462.10 L544.80,462.10 L545.30,462.10 L545.80,462.10 L546.30,462.10 L546.80,462.10 L547.30,462.10 L547.80,462.10 L548.30,462.10 L548.80,462.10 L549.30,462.10 L549.80,462.10 L550.30,462.10 L550.80,462.10 L551.30,462.10 L551.80,462.10 L552.30,462.10 L552.80,462.10 L553.30,462.10 L553.80,462.10 L554.30,462.10 L554.80,462.10 L555.30,462.10 L555.80,462.10 L556.30,462.10 L556.80,462.10 L557.30,462.10 L557.80,462.10 L558.30,462.10 L558.80,462.10 L559.30,462.10 L559.80,462.10 L560.30,462.10 L560.80,462.10 L561.30,462.10 L561.80,462.10 L562.30,462.10 L562.80,462.10 L563.30,462.10 L563.80,462.10 L564.30,462.10 L564.80,462.10 L565.30,462.10 L565.80,462.10 L566.30,462.10 L566.80,462.10 L567.30,462.10 L567.80,462.10 L568.30,462.10 L568.80,462.10 L569.30,462.10 L569.80,462.10 L570.30,462.10 L570.80,462.10 L571.30,462.10 L571.80,462.10 L572.30,462.10 L572.80,462.10 L573.30,462.10 L573.80,462.10 L574.30,462.10 L574.80,462.10 L575.30,462.10 L575.80,462.10 L576.30,462.10 L576.80,462.10 L577.30,462.10 L577.80,462.10 L578.30,462.10 L578.80,462.10 L579.30,462.10 L579.80,462.10 L580.30,462.10 L580.80,462.10 L581.30,462.10 L581.80,462.10 L582.30,462.10 L582.80,462.10 L583.30,462.10 L583.80,462.10 L584.30,462.10 L584.80,462.10 L585.30,462.10 L585.80,462.10 L586.30,462.10 L586.80,462.10 L587.30,462.10 L587.80,462.10 L588.30,462.10 L588.80,462.10 L589.30,462.10 L589.80,462.10 L590.30,462.10 L590.80,462.10 L591.30,462.10 L591.80,462.10 L592.30,462.10 L592.80,462.10 L593.30,462.10 L593.80,462.10 L594.30,462.10 L594.80,462.10 L595.30,462.10 L595.80,462.10 L596.30,462.10 L596.80,462.10 L597.30,462.10 L597.80,462.10 L598.30,462.10 L598.80,462.10 L599.30,462.10 L599.80,462.10 L600.30,462.10 L600.80,462.10 L601.30,462.10 L601.80,462.10 L602.30,462.10 L602.80,462.10 L603.30,462.10 L603.80,462.10 L604.30,462.10 L604.80,462.10 L605.30,462.10 L605.80,462.10 L606.30,462.10 L606.80,462.10 L607.30,462.10 L607.80,462.10 L608.30,462.10 L608.80,462.10 L609.30,462.10 L609.80,462.10 L610.30,462.10 L610.80,462.10 L611.30,462.10 L611.80,462.10 L612.30,462.10 L612.80,462.10 L613.30,462.10 L613.80,462.10 L614.30,462.10 L614.80,462.10 L615.30,462.10 L615.80,462.10 L616.30,462.10 L616.80,462.10 L617.30,462.10 L617.80,462.10 L618.30,462.10 L618.80,462.10 L619.30,462.10 L619.80,462.10 L620.30,462.10 L620.80,462.10 L621.30,462.10 L621.80,462.10 L622.30,462.10 L622.80,462.10 L623.30,462.10 L623.80,462.10 L624.30,462.10 L624.80,462.10 L625.30,462.10 L625.80,462.10 L626.30,462.10 L626.80,462.10 L627.30,462.10 L627.80,462.10 L628.30,462.10 L628.80,462.10 L629.30,462.10 L629.80,462.10 L630.30,462.10 L630.80,462.10 L631.30,462.10 L631.80,462.10 L632.30,462.10 L632.80,462.10 L633.30,462.10 L633.80,462.10 L634.30,462.10 L634.80,462.10 L635.30,462.10 L635.80,462.10 L636.30,462.10 L636.80,462.10 L637.30,462.10 L637.80,462.10 L638.30,462.10" stroke="#157815" class="c"/>
<path d="M70.80,462.10 L71.30,462.10 L71.80,462.10 L72.30,462.10 L72.80,462.10 L73.30,462.10 L73.80,462.10 L74.30,462.10 L74.80,462.10 L75.30,462.10 L75.80,462.10 L76.30,462.10 L76.80,462.10 L77.30,462.10 L77.80,462.10 L78.30,462.10 L78.80,462.10 L79.30,462.10 L79.80,462.10 L80.30,462.10 L80.80,462.10 L81.30,462.10 L81.80,462.10 L82.30,462.10 L82.80,462.10 L83.30,462.10 L83.80,462.10 L84.30,462.10 L84.80,462.10 L85.30,462.10 L85.80,462.10 L86.30,462.10 L86.80,462.10 L87.30,462.10 L87.80,462.10 L88.30,462.10 L88.80,462.10 L89.30,462.10 L89.80,462.10 L90.30,462.10 L90.80,462.10 L91.30,462.10 L91.80,462.10 L92.30,462.10 L92.80,462.10 L93.30,462.10 L93.80,462.10 L94.30,462.10 L94.80,462.10 L95.30,462.10 L95.80,462.10 L96.30,462.10 L96.80,462.10 L97.30,462.10 L97.80,462.10 L98.30,462.10 L98.80,462.10 L99.30,462.10 L99.80,462.10 L100.30,462.10 L100.80,462.10 L101.30,462.10 L101.80,462.10 L102.30,462.10 L102.80,462.10 L103.30,462.10 L103.80,462.10 L104.30,462.10 L104.80,462.10 L105.30,462.10 L105.80,462.10 L106.30,462.10 L106.80,462.10 L107.30,462.10 L107.80,462.10 L108.30,462.10 L108.80,462.10 L109.30,462.10 L109.80,462.10 L110.30,462.10 L110.80,462.10 L111.30,462.10 L111.80,462.10 L112.30,462.10 L112.80,462.10 L113.30,462.10 L113.80,462.10 L114.30,462.10 L114.80,462.10 L115.30,462.10 L115.80,462.10 L116.30,462.10 L116.80,462.10 L117.30,462.10 L117.80,462.10 L118.30,462.10 L118.80,462.10 L119.30,462.10 L119.80,462.10 L120.30,462.10 L120.80,462.10 L121.30,462.10 L121.80,462.10 L122.30,462.10 L122.80,462.09 L123.30,462.09 L123.80,462.09 L124.30,462.09 L124.80,462.09 L125.30,462.09 L125.80,462.09 L126.30,462.09 L126.80,462.09 L127.30,462.08 L127.80,462.08 L128.30,462.08 L128.80,462.08 L129.30,462.07 L129.80,462.07 L130.30,462.07 L130.80,462.06 L131.30,462.06 L131.80,462.06 L132.30,462.05 L132.80,462.04 L133.30,462.04 L133.80,462.03 L134.30,462.02 L134.80,462.01 L135.30,462.00 L135.80,461.99 L136.30,461.98 L136.80,461.97 L137.30,461.95 L137.80,461.93 L138.30,461.92 L138.80,461.90 L139.30,461.87 L139.80,461.85 L140.30,461.82 L140.80,461.79 L141.30,461.76 L141.80,461.73 L142.30,461.69 L142.80,461.64 L143.30,461.60 L143.80,461.55 L144.30,461.49 L144.80,461.43 L145.30,461.37 L145.80,461.29 L146.30,461.22 L146.80,461.13 L147.30,461.04 L147.80,460.94 L148.30,460.83 L148.80,460.71 L149.30,460.58 L149.80,460.44 L150.30,460.29 L150.80,460.13 L151.30,459.95 L151.80,459.76 L152.30,459.56 L152.80,459.34 L153.30,459.10 L153.80,458.85 L154.30,458.57 L154.80,458.28 L155.30,457.96 L155.80,457.62 L156.30,457.26 L156.80,456.87 L157.30,456.45 L157.80,456.01 L158.30,455.53 L158.80,455.03 L159.30,454.49 L159.80,453.91 L160.30,453.30 L160.80,452.64 L161.30,451.95 L161.80,451.22 L162.30,450.44 L162.80,449.61 L163.30,448.73 L163.80,447.81 L164.30,446.83 L164.80,445.79 L165.30,444.70 L165.80,443.55 L166.30,442.33 L166.80,441.05 L167.30,439.71 L167.80,438.29 L168.30,436.81 L168.80,435.25 L169.30,433.61 L169.80,431.90 L170.30,430.10 L170.80,428.23 L171.30,426.26 L171.80,424.21 L172.30,422.07 L172.80,419.83 L173.30,417.50 L173.80,415.07 L174.30,412.54 L174.80,409.91 L175.30,407.17 L175.80,404.33 L176.30,401.37 L176.80,398.30 L177.30,395.11 L177.80,391.79 L178.30,388.36 L178.80,384.80 L179.30,381.11 L179.80,377.28 L180.30,373.32 L180.80,369.21 L181.30,364.96 L181.80,360.56 L182.30,356.01 L182.80,351.30 L183.30,346.43 L183.80,341.39 L184.30,336.18 L184.80,330.79 L185.30,325.23 L185.80,319.48 L186.30,313.55 L186.80,307.43 L187.30,301.12 L187.80,294.61 L188.30,287.91 L188.80,281.02 L189.30,273.93 L189.80,266.65 L190.30,259.18 L190.80,251.52 L191.30,243.69 L191.80,235.68 L192.30,227.51 L192.80,219.19 L193.30,210.73 L193.80,202.15 L194.30,193.46 L194.80,184.68 L195.30,175.84 L195.80,166.95 L196.30,158.04 L196.80,149.15 L197.30,140.29 L197.80,131.51 L198.30,122.82 L198.80,114.27 L199.30,105.90 L199.80,97.73 L200.30,89.80 L200.80,82.15 L201.30,74.82 L201.80,67.85 L202.30,61.26 L202.80,55.10 L203.30,49.39 L203.80,44.17 L204.30,39.47 L204.80,35.32 L205.30,31.73 L205.80,28.73 L206.30,26.34 L206.80,24.56 L207.30,23.43 L207.80,22.93 L208.30,23.03 L208.80,23.63 L209.30,24.72 L209.80,26.30 L210.30,28.36 L210.80,30.88 L211.30,33.86 L211.80,37.29 L212.30,41.14 L212.80,45.40 L213.30,50.05 L213.80,55.06 L214.30,60.43 L214.80,66.12 L215.30,72.11 L215.80,78.37 L216.30,84.88 L216.80,91.62 L217.30,98.56 L217.80,105.67 L218.30,112.93 L218.80,120.30 L219.30,127.78 L219.80,135.33 L220.30,142.93 L220.80,150.56 L221.30,158.19 L221.80,165.81 L222.30,173.40 L222.80,180.94 L223.30,188.41 L223.80,195.80 L224.30,203.09 L224.80,210.28 L225.30,217.35 L225.80,224.29 L226.30,231.09 L226.80,237.75 L227.30,244.26 L227.80,250.62 L228.30,256.82 L228.80,262.86 L229.30,268.74 L229.80,274.46 L230.30,280.02 L230.80,285.42 L231.30,290.65 L231.80,295.73 L232.30,300.66 L232.80,305.44 L233.30,310.07 L233.80,314.55 L234.30,318.90 L234.80,323.11 L235.30,327.19 L235.80,331.15 L236.30,334.98 L236.80,338.70 L237.30,342.30 L237.80,345.80 L238.30,349.19 L238.80,352.48 L239.30,355.67 L239.80,358.78 L240.30,361.79 L240.80,364.72 L241.30,367.57 L241.80,370.34 L242.30,373.03 L242.80,375.65 L243.30,378.21 L243.80,380.69 L244.30,383.11 L244.80,385.46 L245.30,387.76 L245.80,389.99 L246.30,392.17 L246.80,394.29 L247.30,396.36 L247.80,398.37 L248.30,400.33 L248.80,402.24 L249.30,404.10 L249.80,405.92 L250.30,407.68 L250.80,409.40 L251.30,411.07 L251.80,412.70 L252.30,414.29 L252.80,415.83 L253.30,417.33 L253.80,418.79 L254.30,420.20 L254.80,421.58 L255.30,422.92 L255.80,424.22 L256.30,425.48 L256.80,426.71 L257.30,427.90 L257.80,429.05 L258.30,430.18 L258.80,431.26 L259.30,432.31 L259.80,433.33 L260.30,434.32 L260.80,435.28 L261.30,436.21 L261.80,437.11 L262.30,437.98 L262.80,438.82 L263.30,439.63 L263.80,440.42 L264.30,441.18 L264.80,441.92 L265.30,442.63 L265.80,443.31 L266.30,443.98 L266.80,444.62 L267.30,445.24 L267.80,445.84 L268.30,446.42 L268.80,446.97 L269.30,447.51 L269.80,448.03 L270.30,448.53 L270.80,449.02 L271.30,449.48 L271.80,449.93 L272.30,450.37 L272.80,450.79 L273.30,451.19 L273.80,451.58 L274.30,451.96 L274.80,452.32 L275.30,452.67 L275.80,453.00 L276.30,453.33 L276.80,453.64 L277.30,453.94 L277.80,454.23 L278.30,454.52 L278.80,454.79 L279.30,455.05 L279.80,455.30 L280.30,455.54 L280.80,455.78 L281.30,456.00 L281.80,456.22 L282.30,456.43 L282.80,456.63 L283.30,456.83 L283.80,457.02 L284.30,457.20 L284.80,457.37 L285.30,457.54 L285.80,457.70 L286.30,457.86 L286.80,458.01 L287.30,458.16 L287.80,458.30 L288.30,458.44 L288.80,458.57 L289.30,458.70 L289.80,458.82 L290.30,458.94 L290.80,459.05 L291.30,459.16 L291.80,459.27 L292.30,459.37 L292.80,459.47 L293.30,459.57 L293.80,459.66 L294.30,459.75 L294.80,459.83 L295.30,459.92 L295.80,460.00 L296.30,460.08 L296.80,460.15 L297.30,460.22 L297.80,460.29 L298.30,460.36 L298.80,460.43 L299.30,460.49 L299.80,460.55 L300.30,460.61 L300.80,460.66 L301.30,460.72 L301.80,460.77 L302.30,460.82 L302.80,460.87 L303.30,460.92 L303.80,460.96 L304.30,461.01 L304.80,461.05 L305.30,461.09 L305.80,461.13 L306.30,461.17 L306.80,461.20 L307.30,461.24 L307.80,461.27 L308.30,461.31 L308.80,461.34 L309.30,461.37 L309.80,461.40 L310.30,461.43 L310.80,461.45 L311.30,461.48 L311.80,461.51 L312.30,461.53 L312.80,461.55 L313.30,461.58 L313.80,461.60 L314.30,461.62 L314.80,461.64 L315.30,461.66 L315.80,461.68 L316.30,461.70 L316.80,461.71 L317.30,461.73 L317.80,461.74 L318.30,461.76 L318.80,461.77 L319.30,461.79 L319.80,461.80 L320.30,461.82 L320.80,461.83 L321.30,461.84 L321.80,461.85 L322.30,461.86 L322.80,461.87 L323.30,461.88 L323.80,461.89 L324.30,461.90 L324.80,461.91 L325.30,461.92 L325.80,461.93 L326.30,461.94 L326.80,461.94 L327.30,461.95 L327.80,461.96 L328.30,461.96 L328.80,461.97 L329.30,461.98 L329.80,461.98 L330.30,461.99 L330.80,461.99 L331.30,462.00 L331.80,462.00 L332.30,462.01 L332.80,462.01 L333.30,462.02 L333.80,462.02 L334.30,462.02 L334.80,462.03 L335.30,462.03 L335.80,462.04 L336.30,462.04 L336.80,462.04 L337.30,462.04 L337.80,462.05 L338.30,462.05 L338.80,462.05 L339.30,462.05 L339.80,462.06 L340.30,462.06 L340.80,462.06 L341.30,462.06 L341.80,462.07 L342.30,462.07 L342.80,462.07 L343.30,462.07 L343.80,462.07 L344.30,462.07 L344.80,462.07 L345.30,462.08 L345.80,462.08 L346.30,462.08 L346.80,462.08 L347.30,462.08 L347.80,462.08 L348.30,462.08 L348.80,462.08 L349.30,462.08 L349.80,462.09 L350.30,462.09 L350.80,462.09 L351.30,462.09 L351.80,462.09 L352.30,462.09 L352.80,462.09 L353.30,462.09 L353.80,462.09 L354.30,462.09 L354.80,462.09 L355.30,462.09 L355.80,462.09 L356.30,462.09 L356.80,462.09 L357.30,462.09 L357.80,462.09 L358.30,462.09 L358.80,462.09 L359.30,462.10 L359.80,462.10 L360.30,462.10 L360.80,462.10 L361.30,462.10 L361.80,462.10 L362.30,462.10 L362.80,462.10 L363.30,462.10 L363.80,462.10 L364.30,462.10 L364.80,462.10 L365.30,462.10 L365.80,462.10 L366.30,462.10 L366.80,462.10 L367.30,462.10 L367.80,462.10 L368.30,462.10 L368.80,462.10 L369.30,462.10 L369.80,462.10 L370.30,462.10 L370.80,462.10 L371.30,462.10 L371.80,462.10 L372.30,462.10 L372.80,462.10 L373.30,462.10 L373.80,462.10 L374.30,462.10 L374.80,462.10 L375.30,462.10 L375.80,462.10 L376.30,462.10 L376.80,462.10 L377.30,462.10 L377.80,462.10 L378.30,462.10 L378.80,462.10 L379.30,462.10 L379.80,462.10 L380.30,462.10 L380.80,462.10 L381.30,462.10 L381.80,462.10 L382.30,462.10 L382.80,462.10 L383.30,462.10 L383.80,462.10 L384.30,462.10 L384.80,462.10 L385.30,462.10 L385.80,462.10 L386.30,462.10 L386.80,462.10 L387.30,462.10 L387.80,462.10 L388.30,462.10 L388.80,462.10 L389.30,462.10 L389.80,462.10 L390.30,462.10 L390.80,462.10 L391.30,462.10 L391.80,462.10 L392.30,462.10 L392.80,462.10 L393.30,462.10 L393.80,462.10 L394.30,462.10 L394.80,462.10 L395.30,462.10 L395.80,462.10 L396.30,462.10 L396.80,462.10 L397.30,462.10 L397.80,462.10 L398.30,462.10 L398.80,462.10 L399.30,462.10 L399.80,462.10 L400.30,462.10 L400.80,462.10 L401.30,462.10 L401.80,462.10 L402.30,462.10 L402.80,462.10 L403.30,462.10 L403.80,462.10 L404.30,462.10 L404.80,462.10 L405.30,462.10 L405.80,462.10 L406.30,462.10 L406.80,462.10 L407.30,462.10 L407.80,462.10 L408.30,462.10 L408.80,462.10 L409.30,462.10 L409.80,462.10 L410.30,462.10 L410.80,462.10 L411.30,462.10 L411.80,462.10 L412.30,462.10 L412.80,462.10 L413.30,462.10 L413.80,462.10 L414.30,462.10 L414.80,462.10 L415.30,462.10 L415.80,462.10 L416.30,462.10 L416.80,462.10 L417.30,462.10 L417.80,462.10 L418.30,462.10 L418.80,462.10 L419.30,462.10 L419.80,462.10 L420.30,462.10 L420.80,462.10 L421.30,462.10 L421.80,462.10 L422.30,462.10 L422.80,462.10 L423.30,462.10 L423.80,462.10 L424.30,462.10 L424.80,462.10 L425.30,462.10 L425.80,462.10 L426.30,462.10 L426.80,462.10 L427.30,462.10 L427.80,462.10 L428.30,462.10 L428.80,462.10 L429.30,462.10 L429.80,462.10 L430.30,462.10 L430.80,462.10 L431.30,462.10 L431.80,462.10 L432.30,462.10 L432.80,462.10 L433.30,462.10 L433.80,462.10 L434.30,462.10 L434.80,462.10 L435.30,462.10 L435.80,462.10 L436.30,462.10 L436.80,462.10 L437.30,462.10 L437.80,462.10 L438.30,462.10 L438.80,462.10 L439.30,462.10 L439.80,462.10 L440.30,462.10 L440.80,462.10 L441.30,462.10 L441.80,462.10 L442.30,462.10 L442.80,462.10 L443.30,462.10 L443.80,462.10 L444.30,462.10 L444.80,462.10 L445.30,462.10 L445.80,462.10 L446.30,462.10 L446.80,462.10 L447.30,462.10 L447.80,462.10 L448.30,462.10 L448.80,462.10 L449.30,462.10 L449.80,462.10 L450.30,462.10 L450.80,462.10 L451.30,462.10 L451.80,462.10 L452.30,462.10 L452.80,462.10 L453.30,462.10 L453.80,462.10 L454.30,462.10 L454.80,462.10 L455.30,462.10 L455.80,462.10 L456.30,462.10 L456.80,462.10 L457.30,462.10 L457.80,462.10 L458.30,462.10 L458.80,462.10 L459.30,462.10 L459.80,462.10 L460.30,462.10 L460.80,462.10 L461.30,462.10 L461.80,462.10 L462.30,462.10 L462.80,462.10 L463.30,462.10 L463.80,462.10 L464.30,462.10 L464.80,462.10 L465.30,462.10 L465.80,462.10 L466.30,462.10 L466.80,462.10 L467.30,462.10 L467.80,462.10 L468.30,462.10 L468.80,462.10 L469.30,462.10 L469.80,462.10 L470.30,462.10 L470.80,462.10 L471.30,462.10 L471.80,462.10 L472.30,462.10 L472.80,462.10 L473.30,462.10 L473.80,462.10 L474.30,462.10 L474.80,462.10 L475.30,462.10 L475.80,462.10 L476.30,462.10 L476.80,462.10 L477.30,462.10 L477.80,462.10 L478.30,462.10 L478.80,462.10 L479.30,462.10 L479.80,462.10 L480.30,462.10 L480.80,462.10 L481.30,462.10 L481.80,462.10 L482.30,462.10 L482.80,462.10 L483.30,462.10 L483.80,462.10 L484.30,462.10 L484.80,462.10 L485.30,462.10 L485.80,462.10 L486.30,462.10 L486.80,462.10 L487.30,462.10 L487.80,462.10 L488.30,462.10 L488.80,462.10 L489.30,462.10 L489.80,462.10 L490.30,462.10 L490.80,462.10 L491.30,462.10 L491.80,462.10 L492.30,462.10 L492.80,462.10 L493.30,462.10 L493.80,462.10 L494.30,462.10 L494.80,462.10 L495.30,462.10 L495.80,462.10 L496.30,462.10 L496.80,462.10 L497.30,462.10 L497.80,462.10 L498.30,462.10 L498.80,462.10 L499.30,462.10 L499.80,462.10 L500.30,462.10 L500.80,462.10 L501.30,462.10 L501.80,462.10 L502.30,462.10 L502.80,462.10 L503.30,462.10 L503.80,462.10 L504.30,462.10 L504.80,462.10 L505.30,462.10 L505.80,462.10 L506.30,462.10 L506.80,462.10 L507.30,462.10 L507.80,462.10 L508.30,462.10 L508.80,462.10 L509.30,462.10 L509.80,462.10 L510.30,462.10 L510.80,462.10 L511.30,462.10 L511.80,462.10 L512.30,462.10 L512.80,462.10 L513.30,462.10 L513.80,462.10 L514.30,462.10 L514.80,462.10 L515.30,462.10 L515.80,462.10 L516.30,462.10 L516.80,462.10 L517.30,462.10 L517.80,462.10 L518.30,462.10 L518.80,462.10 L519.30,462.10 L519.80,462.10 L520.30,462.10 L520.80,462.10 L521.30,462.10 L521.80,462.10 L522.30,462.10 L522.80,462.10 L523.30,462.10 L523.80,462.10 L524.30,462.10 L524.80,462.10 L525.30,462.10 L525.80,462.10 L526.30,462.10 L526.80,462.10 L527.30,462.10 L527.80,462.10 L528.30,462.10 L528.80,462.10 L529.30,462.10 L529.80,462.10 L530.30,462.10 L530.80,462.10 L531.30,462.10 L531.80,462.10 L532.30,462.10 L532.80,462.10 L533.30,462.10 L533.80,462.10 L534.30,462.10 L534.80,462.10 L535.30,462.10 L535.80,462.10 L536.30,462.10 L536.80,462.10 L537.30,462.10 L537.80,462.10 L538.30,462.10 L538.80,462.10 L539.30,462.10 L539.80,462.10 L540.30,462.10 L540.80,462.10 L541.30,462.10 L541.80,462.10 L542.30,462.10 L542.80,462.10 L543.30,462.10 L543.80,462.10 L544.30,462.10 L544.80,462.10 L545.30,462.10 L545.80,462.10 L546.30,462.10 L546.80,462.10 L547.30,462.10 L547.80,462.10 L548.30,462.10 L548.80,462.10 L549.30,462.10 L549.80,462.10 L550.30,462.10 L550.80,462.10 L551.30,462.10 L551.80,462.10 L552.30,462.10 L552.80,462.10 L553.30,462.10 L553.80,462.10 L554.30,462.10 L554.80,462.10 L555.30,462.10 L555.80,462.10 L556.30,462.10 L556.80,462.10 L557.30,462.10 L557.80,462.10 L558.30,462.10 L558.80,462.10 L559.30,462.10 L559.80,462.10 L560.30,462.10 L560.80,462.10 L561.30,462.10 L561.80,462.10 L562.30,462.10 L562.80,462.10 L563.30,462.10 L563.80,462.10 L564.30,462.10 L564.80,462.10 L565.30,462.10 L565.80,462.10 L566.30,462.10 L566.80,462.10 L567.30,462.10 L567.80,462.10 L568.30,462.10 L568.80,462.10 L569.30,462.10 L569.80,462.10 L570.30,462.10 L570.80,462.10 L571.30,462.10 L571.80,462.10 L572.30,462.10 L572.80,462.10 L573.30,462.10 L573.80,462.10 L574.30,462.10 L574.80,462.10 L575.30,462.10 L575.80,462.10 L576.30,462.10 L576.80,462.10 L577.30,462.10 L577.80,462.10 L578.30,462.10 L578.80,462.10 L579.30,462.10 L579.80,462.10 L580.30,462.10 L580.80,462.10 L581.30,462.10 L581.80,462.10 L582.30,462.10 L582.80,462.10 L583.30,462.10 L583.80,462.10 L584.30,462.10 L584.80,462.10 L585.30,462.10 L585.80,462.10 L586.30,462.10 L586.80,462.10 L587.30,462.10 L587.80,462.10 L588.30,462.10 L588.80,462.10 L589.30,462.10 L589.80,462.10 L590.30,462.10 L590.80,462.10 L591.30,462.10 L591.80,462.10 L592.30,462.10 L592.80,462.10 L593.30,462.10 L593.80,462.10 L594.30,462.10 L594.80,462.10 L595.30,462.10 L595.80,462.10 L596.30,462.10 L596.80,462.10 L597.30,462.10 L597.80,462.10 L598.30,462.10 L598.80,462.10 L599.30,462.10 L599.80,462.10 L600.30,462.10 L600.80,462.10 L601.30,462.10 L601.80,462.10 L602.30,462.10 L602.80,462.10 L603.30,462.10 L603.80,462.10 L604.30,462.10 L604.80,462.10 L605.30,462.10 L605.80,462.10 L606.30,462.10 L606.80,462.10 L607.30,462.10 L607.80,462.10 L608.30,462.10 L608.80,462.10 L609.30,462.10 L609.80,462.10 L610.30,462.10 L610.80,462.10 L611.30,462.10 L611.80,462.10 L612.30,462.10 L612.80,462.10 L613.30,462.10 L613.80,462.10 L614.30,462.10 L614.80,462.10 L615.30,462.10 L615.80,462.10 L616.30,462.10 L616.80,462.10 L617.30,462.10 L617.80,462.10 L618.30,462.10 L618.80,462.10 L619.30,462.10 L619.80,462.10 L620.30,462.10 L620.80,462.10 L621.30,462.10 L621.80,462.10 L622.30,462.10 L622.80,462.10 L623.30,462.10 L623.80,462.10 L624.30,462.10 L624.80,462.10 L625.30,462.10 L625.80,462.10 L626.30,462.10 L626.80,462.10 L627.30,462.10 L627.80,462.10 L628.30,462.10 L628.80,462.10 L629.30,462.10 L629.80,462.10 L630.30,462.10 L630.80,462.10 L631.30,462.10 L631.80,462.10 L632.30,462.10 L632.80,462.10 L633.30,462.10 L633.80,462.10 L634.30,462.10 L634.80,462.10 L635.30,462.10 L635.80,462.10 L636.30,462.10 L636.80,462.10 L637.30,462.10 L637.80,462.10 L638.30,462.10" stroke="#5252e2" class="c"/>
<path d="M70.80,460.56 L71.30,460.56 L71.80,460.56 L72.30,460.56 L72.80,460.56 L73.30,460.56 L73.80,460.56 L74.30,460.56 L74.80,460.56 L75.30,460.56 L75.80,460.56 L76.30,460.56 L76.80,460.56 L77.30,460.56 L77.80,460.56 L78.30,460.56 L78.80,460.56 L79.30,460.56 L79.80,460.56 L80.30,460.56 L80.80,460.56 L81.30,460.56 L81.80,460.56 L82.30,460.56 L82.80,460.56 L83.30,460.56 L83.80,460.56 L84.30,460.56 L84.80,460.56 L85.30,460.56 L85.80,460.56 L86.30,460.56 L86.80,460.56 L87.30,460.56 L87.80,460.56 L88.30,460.56 L88.80,460.56 L89.30,460.56 L89.80,460.55 L90.30,460.55 L90.80,460.55 L91.30,460.55 L91.80,460.55 L92.30,460.55 L92.80,460.55 L93.30,460.55 L93.80,460.54 L94.30,460.54 L94.80,460.54 L95.30,460.54 L95.80,460.54 L96.30,460.53 L96.80,460.53 L97.30,460.53 L97.80,460.53 L98.30,460.52 L98.80,460.52 L99.30,460.52 L99.80,460.51 L100.30,460.51 L100.80,460.50 L101.30,460.50 L101.80,460.49 L102.30,460.48 L102.80,460.48 L103.30,460.47 L103.80,460.46 L104.30,460.45 L104.80,460.44 L105.30,460.43 L105.80,460.42 L106.30,460.41 L106.80,460.40 L107.30,460.39 L107.80,460.37 L108.30,460.36 L108.80,460.34 L109.30,460.32 L109.80,460.31 L110.30,460.29 L110.80,460.26 L111.30,460.24 L111.80,460.22 L112.30,460.19 L112.80,460.16 L113.30,460.13 L113.80,460.10 L114.30,460.07 L114.80,460.03 L115.30,459.99 L115.80,459.95 L116.30,459.91 L116.80,459.86 L117.30,459.81 L117.80,459.76 L118.30,459.70 L118.80,459.64 L119.30,459.58 L119.80,459.51 L120.30,459.44 L120.80,459.36 L121.30,459.28 L121.80,459.19 L122.30,459.10 L122.80,459.00 L123.30,458.90 L123.80,458.79 L124.30,458.67 L124.80,458.55 L125.30,458.42 L125.80,458.27 L126.30,458.12 L126.80,457.96 L127.30,457.79 L127.80,457.61 L128.30,457.42 L128.80,457.21 L129.30,456.99 L129.80,456.76 L130.30,456.51 L130.80,456.25 L131.30,455.96 L131.80,455.66 L132.30,455.34 L132.80,454.99 L133.30,454.63 L133.80,454.23 L134.30,453.81 L134.80,453.36 L135.30,452.88 L135.80,452.37 L136.30,451.82 L136.80,451.24 L137.30,450.61 L137.80,449.94 L138.30,449.22 L138.80,448.46 L139.30,447.64 L139.80,446.77 L140.30,445.83 L140.80,444.84 L141.30,443.77 L141.80,442.64 L142.30,441.43 L142.80,440.14 L143.30,438.76 L143.80,437.30 L144.30,435.74 L144.80,434.09 L145.30,432.33 L145.80,430.46 L146.30,428.48 L146.80,426.38 L147.30,424.16 L147.80,421.81 L148.30,419.32 L148.80,416.70 L149.30,413.93 L149.80,411.01 L150.30,407.94 L150.80,404.71 L151.30,401.31 L151.80,397.75 L152.30,394.01 L152.80,390.09 L153.30,385.99 L153.80,381.70 L154.30,377.22 L154.80,372.54 L155.30,367.65 L155.80,362.57 L156.30,357.27 L156.80,351.76 L157.30,346.02 L157.80,340.07 L158.30,333.89 L158.80,327.47 L159.30,320.82 L159.80,313.94 L160.30,306.81 L160.80,299.43 L161.30,291.81 L161.80,283.94 L162.30,275.83 L162.80,267.47 L163.30,258.87 L163.80,250.03 L164.30,240.96 L164.80,231.66 L165.30,222.17 L165.80,212.47 L166.30,202.61 L166.80,192.60 L167.30,182.46 L167.80,172.23 L168.30,161.94 L168.80,151.64 L169.30,141.36 L169.80,131.15 L170.30,121.06 L170.80,111.15 L171.30,101.48 L171.80,92.10 L172.30,83.07 L172.80,74.46 L173.30,66.33 L173.80,58.73 L174.30,51.73 L174.80,45.38 L175.30,39.74 L175.80,34.85 L176.30,30.75 L176.80,27.48 L177.30,25.08 L177.80,23.55 L178.30,22.92 L178.80,23.14 L179.30,24.10 L179.80,25.80 L180.30,28.23 L180.80,31.37 L181.30,35.20 L181.80,39.69 L182.30,44.83 L182.80,50.58 L183.30,56.90 L183.80,63.77 L184.30,71.14 L184.80,78.96 L185.30,87.20 L185.80,95.82 L186.30,104.76 L186.80,113.98 L187.30,123.44 L187.80,133.09 L188.30,142.89 L188.80,152.79 L189.30,162.75 L189.80,172.74 L190.30,182.71 L190.80,192.62 L191.30,202.45 L191.80,212.15 L192.30,221.71 L192.80,231.10 L193.30,240.29 L193.80,249.27 L194.30,258.01 L194.80,266.50 L195.30,274.73 L195.80,282.68 L196.30,290.36 L196.80,297.75 L197.30,304.86 L197.80,311.68 L198.30,318.22 L198.80,324.47 L199.30,330.44 L199.80,336.14 L200.30,341.57 L200.80,346.74 L201.30,351.66 L201.80,356.34 L202.30,360.79 L202.80,365.02 L203.30,369.03 L203.80,372.84 L204.30,376.47 L204.80,379.91 L205.30,383.19 L205.80,386.30 L206.30,389.26 L206.80,392.08 L207.30,394.77 L207.80,397.34 L208.30,399.79 L208.80,402.13 L209.30,404.37 L209.80,406.52 L210.30,408.58 L210.80,410.55 L211.30,412.45 L211.80,414.28 L212.30,416.04 L212.80,417.73 L213.30,419.37 L213.80,420.95 L214.30,422.47 L214.80,423.94 L215.30,425.37 L215.80,426.75 L216.30,428.08 L216.80,429.37 L217.30,430.63 L217.80,431.84 L218.30,433.01 L218.80,434.15 L219.30,435.25 L219.80,436.32 L220.30,437.36 L220.80,438.36 L221.30,439.33 L221.80,440.27 L222.30,441.18 L222.80,442.06 L223.30,442.91 L223.80,443.73 L224.30,444.53 L224.80,445.30 L225.30,446.04 L225.80,446.75 L226.30,447.44 L226.80,448.11 L227.30,448.75 L227.80,449.36 L228.30,449.96 L228.80,450.53 L229.30,451.08 L229.80,451.61 L230.30,452.12 L230.80,452.60 L231.30,453.07 L231.80,453.52 L232.30,453.95 L232.80,454.36 L233.30,454.75 L233.80,455.13 L234.30,455.49 L234.80,455.84 L235.30,456.17 L235.80,456.48 L236.30,456.78 L236.80,457.07 L237.30,457.34 L237.80,457.60 L238.30,457.85 L238.80,458.09 L239.30,458.31 L239.80,458.52 L240.30,458.73 L240.80,458.92 L241.30,459.10 L241.80,459.28 L242.30,459.44 L242.80,459.60 L243.30,459.74 L243.80,459.88 L244.30,460.02 L244.80,460.14 L245.30,460.26 L245.80,460.37 L246.30,460.48 L246.80,460.58 L247.30,460.67 L247.80,460.76 L248.30,460.85 L248.80,460.92 L249.30,461.00 L249.80,461.07 L250.30,461.14 L250.80,461.20 L251.30,461.26 L251.80,461.31 L252.30,461.36 L252.80,461.41 L253.30,461.46 L253.80,461.50 L254.30,461.54 L254.80,461.58 L255.30,461.61 L255.80,461.64 L256.30,461.67 L256.80,461.70 L257.30,461.73 L257.80,461.76 L258.30,461.78 L258.80,461.80 L259.30,461.82 L259.80,461.84 L260.30,461.86 L260.80,461.87 L261.30,461.89 L261.80,461.91 L262.30,461.92 L262.80,461.93 L263.30,461.94 L263.80,461.95 L264.30,461.96 L264.80,461.97 L265.30,461.98 L265.80,461.99 L266.30,462.00 L266.80,462.01 L267.30,462.01 L267.80,462.02 L268.30,462.02 L268.80,462.03 L269.30,462.03 L269.80,462.04 L270.30,462.04 L270.80,462.05 L271.30,462.05 L271.80,462.05 L272.30,462.06 L272.80,462.06 L273.30,462.06 L273.80,462.07 L274.30,462.07 L274.80,462.07 L275.30,462.07 L275.80,462.07 L276.30,462.08 L276.80,462.08 L277.30,462.08 L277.80,462.08 L278.30,462.08 L278.80,462.08 L279.30,462.08 L279.80,462.09 L280.30,462.09 L280.80,462.09 L281.30,462.09 L281.80,462.09 L282.30,462.09 L282.80,462.09 L283.30,462.09 L283.80,462.09 L284.30,462.09 L284.80,462.09 L285.30,462.09 L285.80,462.09 L286.30,462.09 L286.80,462.09 L287.30,462.09 L287.80,462.10 L288.30,462.10 L288.80,462.10 L289.30,462.10 L289.80,462.10 L290.30,462.10 L290.80,462.10 L291.30,462.10 L291.80,462.10 L292.30,462.10 L292.80,462.10 L293.30,462.10 L293.80,462.10 L294.30,462.10 L294.80,462.10 L295.30,462.10 L295.80,462.10 L296.30,462.10 L296.80,462.10 L297.30,462.10 L297.80,462.10 L298.30,462.10 L298.80,462.10 L299.30,462.10 L299.80,462.10 L300.30,462.10 L300.80,462.10 L301.30,462.10 L301.80,462.10 L302.30,462.10 L302.80,462.10 L303.30,462.10 L303.80,462.10 L304.30,462.10 L304.80,462.10 L305.30,462.10 L305.80,462.10 L306.30,462.10 L306.80,462.10 L307.30,462.10 L307.80,462.10 L308.30,462.10 L308.80,462.10 L309.30,462.10 L309.80,462.10 L310.30,462.10 L310.80,462.10 L311.30,462.10 L311.80,462.10 L312.30,462.10 L312.80,462.10 L313.30,462.10 L313.80,462.10 L314.30,462.10 L314.80,462.10 L315.30,462.10 L315.80,462.10 L316.30,462.10 L316.80,462.10 L317.30,462.10 L317.80,462.10 L318.30,462.10 L318.80,462.10 L319.30,462.10 L319.80,462.10 L320.30,462.10 L320.80,462.10 L321.30,462.10 L321.80,462.10 L322.30,462.10 L322.80,462.10 L323.30,462.10 L323.80,462.10 L324.30,462.10 L324.80,462.10 L325.30,462.10 L325.80,462.10 L326.30,462.10 L326.80,462.10 L327.30,462.10 L327.80,462.10 L328.30,462.10 L328.80,462.10 L329.30,462.10 L329.80,462.10 L330.30,462.10 L330.80,462.10 L331.30,462.10 L331.80,462.10 L332.30,462.10 L332.80,462.10 L333.30,462.10 L333.80,462.10 L334.30,462.10 L334.80,462.10 L335.30,462.10 L335.80,462.10 L336.30,462.10 L336.80,462.10 L337.30,462.10 L337.80,462.10 L338.30,462.10 L338.80,462.10 L339.30,462.10 L339.80,462.10 L340.30,462.10 L340.80,462.10 L341.30,462.10 L341.80,462.10 L342.30,462.10 L342.80,462.10 L343.30,462.10 L343.80,462.10 L344.30,462.10 L344.80,462.10 L345.30,462.10 L345.80,462.10 L346.30,462.10 L346.80,462.10 L347.30,462.10 L347.80,462.10 L348.30,462.10 L348.80,462.10 L349.30,462.10 L349.80,462.10 L350.30,462.10 L350.80,462.10 L351.30,462.10 L351.80,462.10 L352.30,462.10 L352.80,462.10 L353.30,462.10 L353.80,462.10 L354.30,462.10 L354.80,462.10 L355.30,462.10 L355.80,462.10 L356.30,462.10 L356.80,462.10 L357.30,462.10 L357.80,462.10 L358.30,462.10 L358.80,462.10 L359.30,462.10 L359.80,462.10 L360.30,462.10 L360.80,462.10 L361.30,462.10 L361.80,462.10 L362.30,462.10 L362.80,462.10 L363.30,462.10 L363.80,462.10 L364.30,462.10 L364.80,462.10 L365.30,462.10 L365.80,462.10 L366.30,462.10 L366.80,462.10 L367.30,462.10 L367.80,462.10 L368.30,462.10 L368.80,462.10 L369.30,462.10 L369.80,462.10 L370.30,462.10 L370.80,462.10 L371.30,462.10 L371.80,462.10 L372.30,462.10 L372.80,462.10 L373.30,462.10 L373.80,462.10 L374.30,462.10 L374.80,462.10 L375.30,462.10 L375.80,462.10 L376.30,462.10 L376.80,462.10 L377.30,462.10 L377.80,462.10 L378.30,462.10 L378.80,462.10 L379.30,462.10 L379.80,462.10 L380.30,462.10 L380.80,462.10 L381.30,462.10 L381.80,462.10 L382.30,462.10 L382.80,462.10 L383.30,462.10 L383.80,462.10 L384.30,462.10 L384.80,462.10 L385.30,462.10 L385.80,462.10 L386.30,462.10 L386.80,462.10 L387.30,462.10 L387.80,462.10 L388.30,462.10 L388.80,462.10 L389.30,462.10 L389.80,462.10 L390.30,462.10 L390.80,462.10 L391.30,462.10 L391.80,462.10 L392.30,462.10 L392.80,462.10 L393.30,462.10 L393.80,462.10 L394.30,462.10 L394.80,462.10 L395.30,462.10 L395.80,462.10 L396.30,462.10 L396.80,462.10 L397.30,462.10 L397.80,462.10 L398.30,462.10 L398.80,462.10 L399.30,462.10 L399.80,462.10 L400.30,462.10 L400.80,462.10 L401.30,462.10 L401.80,462.10 L402.30,462.10 L402.80,462.10 L403.30,462.10 L403.80,462.10 L404.30,462.10 L404.80,462.10 L405.30,462.10 L405.80,462.10 L406.30,462.10 L406.80,462.10 L407.30,462.10 L407.80,462.10 L408.30,462.10 L408.80,462.10 L409.30,462.10 L409.80,462.10 L410.30,462.10 L410.80,462.10 L411.30,462.10 L411.80,462.10 L412.30,462.10 L412.80,462.10 L413.30,462.10 L413.80,462.10 L414.30,462.10 L414.80,462.10 L415.30,462.10 L415.80,462.10 L416.30,462.10 L416.80,462.10 L417.30,462.10 L417.80,462.10 L418.30,462.10 L418.80,462.10 L419.30,462.10 L419.80,462.10 L420.30,462.10 L420.80,462.10 L421.30,462.10 L421.80,462.10 L422.30,462.10 L422.80,462.10 L423.30,462.10 L423.80,462.10 L424.30,462.10 L424.80,462.10 L425.30,462.10 L425.80,462.10 L426.30,462.10 L426.80,462.10 L427.30,462.10 L427.80,462.10 L428.30,462.10 L428.80,462.10 L429.30,462.10 L429.80,462.10 L430.30,462.10 L430.80,462.10 L431.30,462.10 L431.80,462.10 L432.30,462.10 L432.80,462.10 L433.30,462.10 L433.80,462.10 L434.30,462.10 L434.80,462.10 L435.30,462.10 L435.80,462.10 L436.30,462.10 L436.80,462.10 L437.30,462.10 L437.80,462.10 L438.30,462.10 L438.80,462.10 L439.30,462.10 L439.80,462.10 L440.30,462.10 L440.80,462.10 L441.30,462.10 L441.80,462.10 L442.30,462.10 L442.80,462.10 L443.30,462.10 L443.80,462.10 L444.30,462.10 L444.80,462.10 L445.30,462.10 L445.80,462.10 L446.30,462.10 L446.80,462.10 L447.30,462.10 L447.80,462.10 L448.30,462.10 L448.80,462.10 L449.30,462.10 L449.80,462.10 L450.30,462.10 L450.80,462.10 L451.30,462.10 L451.80,462.10 L452.30,462.10 L452.80,462.10 L453.30,462.10 L453.80,462.10 L454.30,462.10 L454.80,462.10 L455.30,462.10 L455.80,462.10 L456.30,462.10 L456.80,462.10 L457.30,462.10 L457.80,462.10 L458.30,462.10 L458.80,462.10 L459.30,462.10 L459.80,462.10 L460.30,462.10 L460.80,462.10 L461.30,462.10 L461.80,462.10 L462.30,462.10 L462.80,462.10 L463.30,462.10 L463.80,462.10 L464.30,462.10 L464.80,462.10 L465.30,462.10 L465.80,462.10 L466.30,462.10 L466.80,462.10 L467.30,462.10 L467.80,462.10 L468.30,462.10 L468.80,462.10 L469.30,462.10 L469.80,462.10 L470.30,462.10 L470.80,462.10 L471.30,462.10 L471.80,462.10 L472.30,462.10 L472.80,462.10 L473.30,462.10 L473.80,462.10 L474.30,462.10 L474.80,462.10 L475.30,462.10 L475.80,462.10 L476.30,462.10 L476.80,462.10 L477.30,462.10 L477.80,462.10 L478.30,462.10 L478.80,462.10 L479.30,462.10 L479.80,462.10 L480.30,462.10 L480.80,462.10 L481.30,462.10 L481.80,462.10 L482.30,462.10 L482.80,462.10 L483.30,462.10 L483.80,462.10 L484.30,462.10 L484.80,462.10 L485.30,462.10 L485.80,462.10 L486.30,462.10 L486.80,462.10 L487.30,462.10 L487.80,462.10 L488.30,462.10 L488.80,462.10 L489.30,462.10 L489.80,462.10 L490.30,462.10 L490.80,462.10 L491.30,462.10 L491.80,462.10 L492.30,462.10 L492.80,462.10 L493.30,462.10 L493.80,462.10 L494.30,462.10 L494.80,462.10 L495.30,462.10 L495.80,462.10 L496.30,462.10 L496.80,462.10 L497.30,462.10 L497.80,462.10 L498.30,462.10 L498.80,462.10 L499.30,462.10 L499.80,462.10 L500.30,462.10 L500.80,462.10 L501.30,462.10 L501.80,462.10 L502.30,462.10 L502.80,462.10 L503.30,462.10 L503.80,462.10 L504.30,462.10 L504.80,462.10 L505.30,462.10 L505.80,462.10 L506.30,462.10 L506.80,462.10 L507.30,462.10 L507.80,462.10 L508.30,462.10 L508.80,462.10 L509.30,462.10 L509.80,462.10 L510.30,462.10 L510.80,462.10 L511.30,462.10 L511.80,462.10 L512.30,462.10 L512.80,462.10 L513.30,462.10 L513.80,462.10 L514.30,462.10 L514.80,462.10 L515.30,462.10 L515.80,462.10 L516.30,462.10 L516.80,462.10 L517.30,462.10 L517.80,462.10 L518.30,462.10 L518.80,462.10 L519.30,462.10 L519.80,462.10 L520.30,462.10 L520.80,462.10 L521.30,462.10 L521.80,462.10 L522.30,462.10 L522.80,462.10 L523.30,462.10 L523.80,462.10 L524.30,462.10 L524.80,462.10 L525.30,462.10 L525.80,462.10 L526.30,462.10 L526.80,462.10 L527.30,462.10 L527.80,462.10 L528.30,462.10 L528.80,462.10 L529.30,462.10 L529.80,462.10 L530.30,462.10 L530.80,462.10 L531.30,462.10 L531.80,462.10 L532.30,462.10 L532.80,462.10 L533.30,462.10 L533.80,462.10 L534.30,462.10 L534.80,462.10 L535.30,462.10 L535.80,462.10 L536.30,462.10 L536.80,462.10 L537.30,462.10 L537.80,462.10 L538.30,462.10 L538.80,462.10 L539.30,462.10 L539.80,462.10 L540.30,462.10 L540.80,462.10 L541.30,462.10 L541.80,462.10 L542.30,462.10 L542.80,462.10 L543.30,462.10 L543.80,462.10 L544.30,462.10 L544.80,462.10 L545.30,462.10 L545.80,462.10 L546.30,462.10 L546.80,462.10 L547.30,462.10 L547.80,462.10 L548.30,462.10 L548.80,462.10 L549.30,462.10 L549.80,462.10 L550.30,462.10 L550.80,462.10 L551.30,462.10 L551.80,462.10 L552.30,462.10 L552.80,462.10 L553.30,462.10 L553.80,462.10 L554.30,462.10 L554.80,462.10 L555.30,462.10 L555.80,462.10 L556.30,462.10 L556.80,462.10 L557.30,462.10 L557.80,462.10 L558.30,462.10 L558.80,462.10 L559.30,462.10 L559.80,462.10 L560.30,462.10 L560.80,462.10 L561.30,462.10 L561.80,462.10 L562.30,462.10 L562.80,462.10 L563.30,462.10 L563.80,462.10 L564.30,462.10 L564.80,462.10 L565.30,462.10 L565.80,462.10 L566.30,462.10 L566.80,462.10 L567.30,462.10 L567.80,462.10 L568.30,462.10 L568.80,462.10 L569.30,462.10 L569.80,462.10 L570.30,462.10 L570.80,462.10 L571.30,462.10 L571.80,462.10 L572.30,462.10 L572.80,462.10 L573.30,462.10 L573.80,462.10 L574.30,462.10 L574.80,462.10 L575.30,462.10 L575.80,462.10 L576.30,462.10 L576.80,462.10 L577.30,462.10 L577.80,462.10 L578.30,462.10 L578.80,462.10 L579.30,462.10 L579.80,462.10 L580.30,462.10 L580.80,462.10 L581.30,462.10 L581.80,462.10 L582.30,462.10 L582.80,462.10 L583.30,462.10 L583.80,462.10 L584.30,462.10 L584.80,462.10 L585.30,462.10 L585.80,462.10 L586.30,462.10 L586.80,462.10 L587.30,462.10 L587.80,462.10 L588.30,462.10 L588.80,462.10 L589.30,462.10 L589.80,462.10 L590.30,462.10 L590.80,462.10 L591.30,462.10 L591.80,462.10 L592.30,462.10 L592.80,462.10 L593.30,462.10 L593.80,462.10 L594.30,462.10 L594.80,462.10 L595.30,462.10 L595.80,462.10 L596.30,462.10 L596.80,462.10 L597.30,462.10 L597.80,462.10 L598.30,462.10 L598.80,462.10 L599.30,462.10 L599.80,462.10 L600.30,462.10 L600.80,462.10 L601.30,462.10 L601.80,462.10 L602.30,462.10 L602.80,462.10 L603.30,462.10 L603.80,462.10 L604.30,462.10 L604.80,462.10 L605.30,462.10 L605.80,462.10 L606.30,462.10 L606.80,462.10 L607.30,462.10 L607.80,462.10 L608.30,462.10 L608.80,462.10 L609.30,462.10 L609.80,462.10 L610.30,462.10 L610.80,462.10 L611.30,462.10 L611.80,462.10 L612.30,462.10 L612.80,462.10 L613.30,462.10 L613.80,462.10 L614.30,462.10 L614.80,462.10 L615.30,462.10 L615.80,462.10 L616.30,462.10 L616.80,462.10 L617.30,462.10 L617.80,462.10 L618.30,462.10 L618.80,462.10 L619.30,462.10 L619.80,462.10 L620.30,462.10 L620.80,462.10 L621.30,462.10 L621.80,462.10 L622.30,462.10 L622.80,462.10 L623.30,462.10 L623.80,462.10 L624.30,462.10 L624.80,462.10 L625.30,462.10 L625.80,462.10 L626.30,462.10 L626.80,462.10 L627.30,462.10 L627.80,462.10 L628.30,462.10 L628.80,462.10 L629.30,462.10 L629.80,462.10 L630.30,462.10 L630.80,462.10 L631.30,462.10 L631.80,462.10 L632.30,462.10 L632.80,462.10 L633.30,462.10 L633.80,462.10 L634.30,462.10 L634.80,462.10 L635.30,462.10 L635.80,462.10 L636.30,462.10 L636.80,462.10 L637.30,462.10 L637.80,462.10 L638.30,462.10" stroke="#3370d2" class="c"/>
<rect x="70.8" y="22.9" width="567.95" height="439.20" fill="none" stroke="#222" stroke-width="1.3"/>
<line x1="122.43" y1="462.1" x2="122.43" y2="456.6" class="t"/>
<line x1="122.43" y1="22.9" x2="122.43" y2="28.4" class="t"/>
<line x1="186.97" y1="462.1" x2="186.97" y2="456.6" class="t"/>
<line x1="186.97" y1="22.9" x2="186.97" y2="28.4" class="t"/>
<line x1="251.51" y1="462.1" x2="251.51" y2="456.6" class="t"/>
<line x1="251.51" y1="22.9" x2="251.51" y2="28.4" class="t"/>
<line x1="316.05" y1="462.1" x2="316.05" y2="456.6" class="t"/>
<line x1="316.05" y1="22.9" x2="316.05" y2="28.4" class="t"/>
<line x1="380.59" y1="462.1" x2="380.59" y2="456.6" class="t"/>
<line x1="380.59" y1="22.9" x2="380.59" y2="28.4" class="t"/>
<line x1="445.13" y1="462.1" x2="445.13" y2="456.6" class="t"/>
<line x1="445.13" y1="22.9" x2="445.13" y2="28.4" class="t"/>
<line x1="509.67" y1="462.1" x2="509.67" y2="456.6" class="t"/>
<line x1="509.67" y1="22.9" x2="509.67" y2="28.4" class="t"/>
<line x1="574.21" y1="462.1" x2="574.21" y2="456.6" class="t"/>
<line x1="574.21" y1="22.9" x2="574.21" y2="28.4" class="t"/>
<line x1="70.8" y1="374.26" x2="76.3" y2="374.26" class="t"/>
<line x1="638.75" y1="374.26" x2="633.25" y2="374.26" class="t"/>
<line x1="70.8" y1="286.42" x2="76.3" y2="286.42" class="t"/>
<line x1="638.75" y1="286.42" x2="633.25" y2="286.42" class="t"/>
<line x1="70.8" y1="198.58" x2="76.3" y2="198.58" class="t"/>
<line x1="638.75" y1="198.58" x2="633.25" y2="198.58" class="t"/>
<line x1="70.8" y1="110.74" x2="76.3" y2="110.74" class="t"/>
<line x1="638.75" y1="110.74" x2="633.25" y2="110.74" class="t"/>
<text x="122.43" y="477.5" text-anchor="middle" class="tl" textLength="23.4" lengthAdjust="spacingAndGlyphs">400</text>
<text x="186.97" y="477.5" text-anchor="middle" class="tl" textLength="23.4" lengthAdjust="spacingAndGlyphs">450</text>
<text x="251.51" y="477.5" text-anchor="middle" class="tl" textLength="23.4" lengthAdjust="spacingAndGlyphs">500</text>
<text x="316.05" y="477.5" text-anchor="middle" class="tl" textLength="23.4" lengthAdjust="spacingAndGlyphs">550</text>
<text x="380.59" y="477.5" text-anchor="middle" class="tl" textLength="23.4" lengthAdjust="spacingAndGlyphs">600</text>
<text x="445.13" y="477.5" text-anchor="middle" class="tl" textLength="23.4" lengthAdjust="spacingAndGlyphs">650</text>
<text x="509.67" y="477.5" text-anchor="middle" class="tl" textLength="23.4" lengthAdjust="spacingAndGlyphs">700</text>
<text x="574.21" y="477.5" text-anchor="middle" class="tl" textLength="23.4" lengthAdjust="spacingAndGlyphs">750</text>
<text x="638.75" y="477.5" text-anchor="middle" class="tl" textLength="23.4" lengthAdjust="spacingAndGlyphs">800</text>
<text x="66.6" y="466.85" text-anchor="end" class="tl" textLength="18.8" lengthAdjust="spacingAndGlyphs">0.0</text>
<text x="66.6" y="379.01" text-anchor="end" class="tl" textLength="18.8" lengthAdjust="spacingAndGlyphs">0.2</text>
<text x="66.6" y="291.17" text-anchor="end" class="tl" textLength="18.8" lengthAdjust="spacingAndGlyphs">0.4</text>
<text x="66.6" y="203.33" text-anchor="end" class="tl" textLength="18.8" lengthAdjust="spacingAndGlyphs">0.6</text>
<text x="66.6" y="115.49" text-anchor="end" class="tl" textLength="18.8" lengthAdjust="spacingAndGlyphs">0.8</text>
<text x="66.6" y="27.65" text-anchor="end" class="tl" textLength="18.8" lengthAdjust="spacingAndGlyphs">1.0</text>
<text x="355.5" y="495.3" text-anchor="middle" class="al" textLength="131" lengthAdjust="spacingAndGlyphs">Wavelength [nm]</text>
<text transform="translate(38.5,241) rotate(-90)" text-anchor="middle" class="al" textLength="158" lengthAdjust="spacingAndGlyphs">Normalized Power [-]</text>
<rect x="531.8" y="28.3" width="100.9" height="70.5" fill="#fff" stroke="#222" stroke-width="1.2"/>
<line x1="538.6" y1="37.90" x2="557.2" y2="37.90" stroke="#dc1a20" stroke-width="2.4"/>
<text x="569.2" y="41.60" class="lg" textLength="20.4" lengthAdjust="spacingAndGlyphs">Red</text>
<line x1="538.6" y1="54.57" x2="557.2" y2="54.57" stroke="#157815" stroke-width="2.4"/>
<text x="569.2" y="58.27" class="lg" textLength="33.8" lengthAdjust="spacingAndGlyphs">Green</text>
<line x1="538.6" y1="71.24" x2="557.2" y2="71.24" stroke="#5252e2" stroke-width="2.4"/>
<text x="569.2" y="74.94" class="lg" textLength="24.3" lengthAdjust="spacingAndGlyphs">Blue</text>
<line x1="538.6" y1="87.91" x2="557.2" y2="87.91" stroke="#3370d2" stroke-width="2.4"/>
<text x="569.2" y="91.61" class="lg" textLength="59.3" lengthAdjust="spacingAndGlyphs">Royal Blue</text>
</g>
</svg>
</body></html>
